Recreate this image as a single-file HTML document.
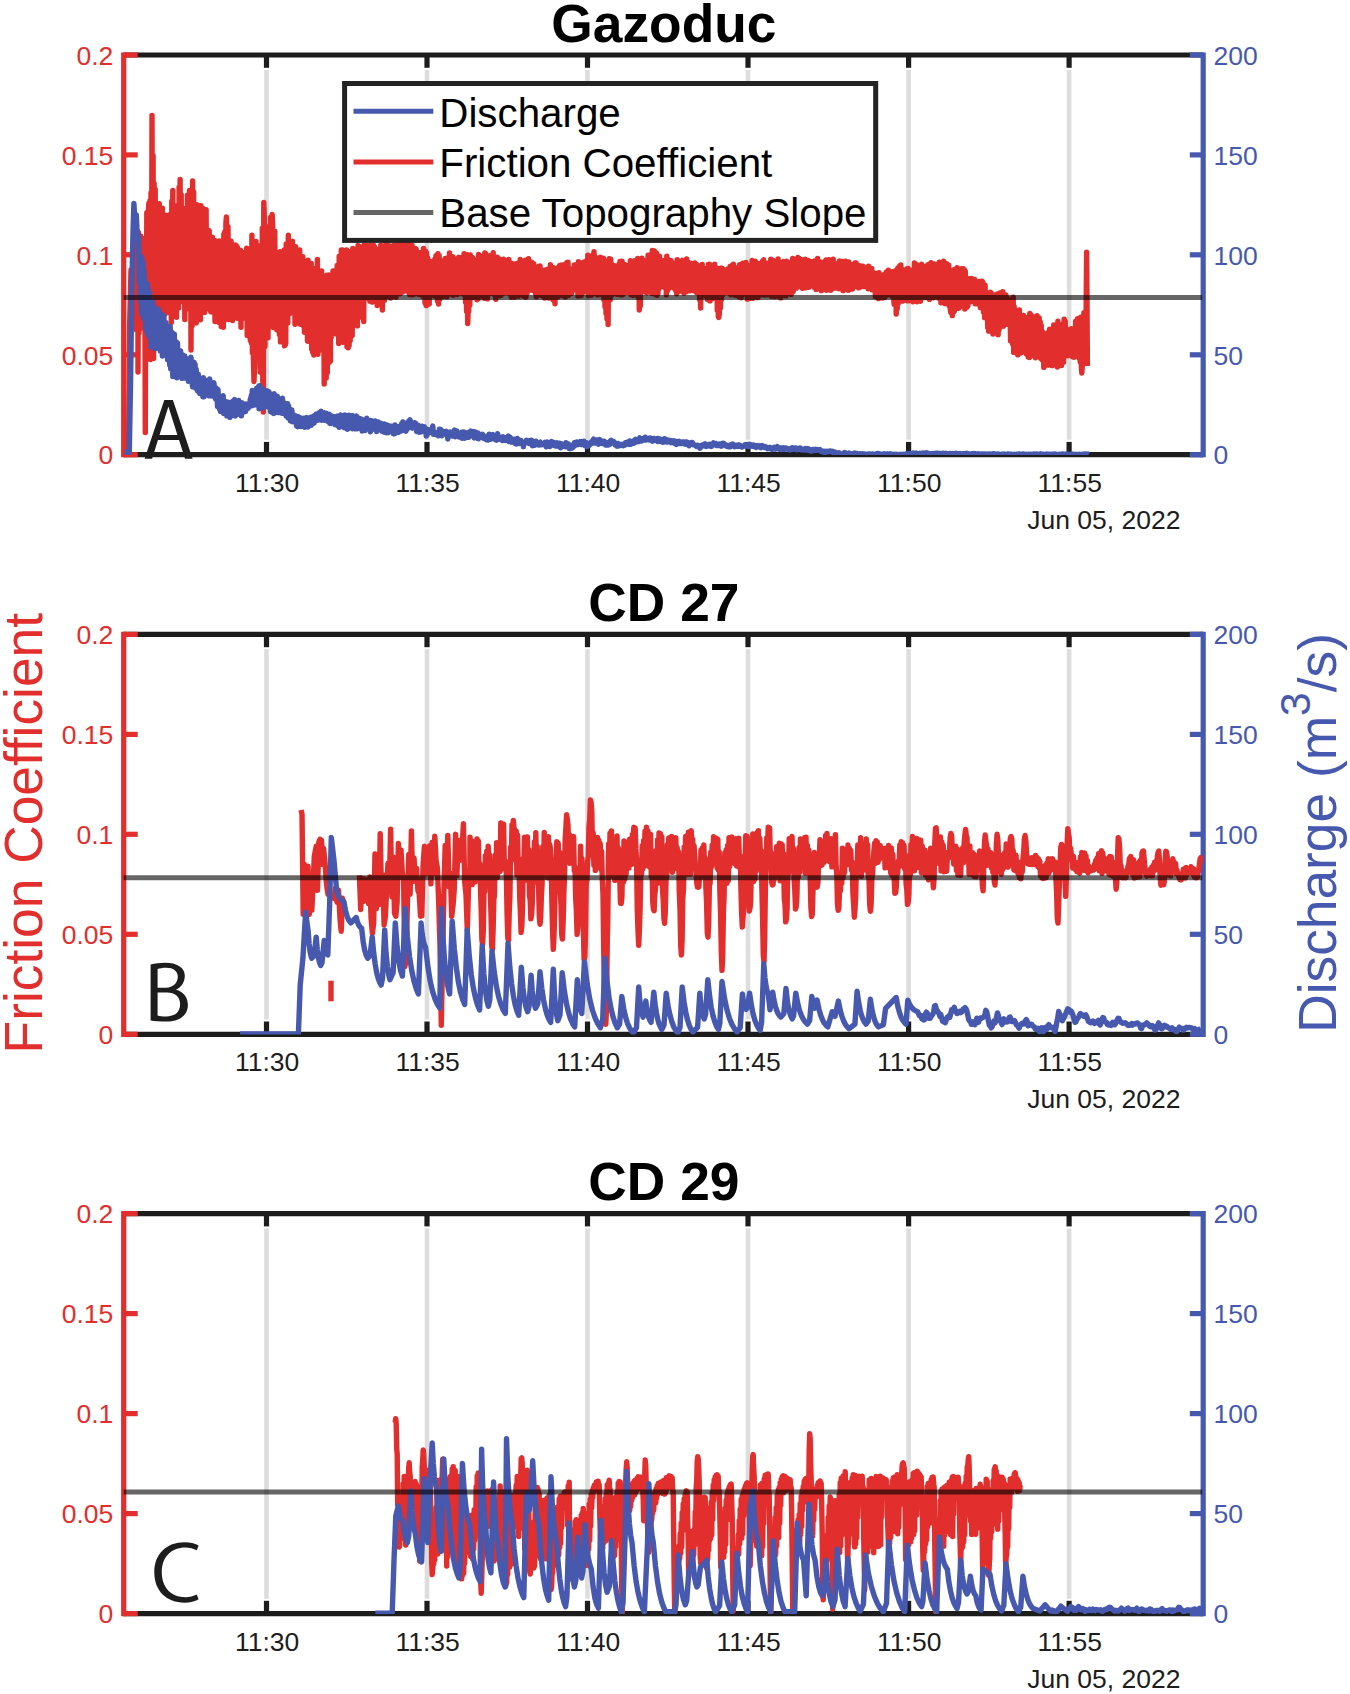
<!DOCTYPE html>
<html><head><meta charset="utf-8"><title>Friction coefficient and discharge</title>
<style>html,body{margin:0;padding:0;background:#fff}svg{display:block}</style>
</head><body>
<svg width="1350" height="1694" viewBox="0 0 1350 1694" font-family="'Liberation Sans', sans-serif">
<rect width="1350" height="1694" fill="#fff"/>
<g id="p0">
<line x1="266.5" y1="69.9" x2="266.5" y2="439.8" stroke="#dddddd" stroke-width="4.6"/>
<line x1="427" y1="69.9" x2="427" y2="439.8" stroke="#dddddd" stroke-width="4.6"/>
<line x1="587.5" y1="69.9" x2="587.5" y2="439.8" stroke="#dddddd" stroke-width="4.6"/>
<line x1="748" y1="69.9" x2="748" y2="439.8" stroke="#dddddd" stroke-width="4.6"/>
<line x1="908.6" y1="69.9" x2="908.6" y2="439.8" stroke="#dddddd" stroke-width="4.6"/>
<line x1="1069.1" y1="69.9" x2="1069.1" y2="439.8" stroke="#dddddd" stroke-width="4.6"/>
<line x1="123.7" y1="55" x2="1203.2" y2="55" stroke="#1d1d1d" stroke-width="5.2"/>
<line x1="123.7" y1="454.7" x2="1203.2" y2="454.7" stroke="#1d1d1d" stroke-width="5.2"/>
<line x1="266.5" y1="55" x2="266.5" y2="67.8" stroke="#1d1d1d" stroke-width="5.2"/>
<line x1="266.5" y1="454.7" x2="266.5" y2="441.9" stroke="#1d1d1d" stroke-width="5.2"/>
<line x1="427" y1="55" x2="427" y2="67.8" stroke="#1d1d1d" stroke-width="5.2"/>
<line x1="427" y1="454.7" x2="427" y2="441.9" stroke="#1d1d1d" stroke-width="5.2"/>
<line x1="587.5" y1="55" x2="587.5" y2="67.8" stroke="#1d1d1d" stroke-width="5.2"/>
<line x1="587.5" y1="454.7" x2="587.5" y2="441.9" stroke="#1d1d1d" stroke-width="5.2"/>
<line x1="748" y1="55" x2="748" y2="67.8" stroke="#1d1d1d" stroke-width="5.2"/>
<line x1="748" y1="454.7" x2="748" y2="441.9" stroke="#1d1d1d" stroke-width="5.2"/>
<line x1="908.6" y1="55" x2="908.6" y2="67.8" stroke="#1d1d1d" stroke-width="5.2"/>
<line x1="908.6" y1="454.7" x2="908.6" y2="441.9" stroke="#1d1d1d" stroke-width="5.2"/>
<line x1="1069.1" y1="55" x2="1069.1" y2="67.8" stroke="#1d1d1d" stroke-width="5.2"/>
<line x1="1069.1" y1="454.7" x2="1069.1" y2="441.9" stroke="#1d1d1d" stroke-width="5.2"/>
<line x1="123.7" y1="52.4" x2="123.7" y2="457.3" stroke="#E22E2C" stroke-width="5.2"/>
<line x1="1203.2" y1="52.4" x2="1203.2" y2="457.3" stroke="#4759AE" stroke-width="5.2"/>
<line x1="123.7" y1="454.7" x2="137.7" y2="454.7" stroke="#E22E2C" stroke-width="5.2"/>
<line x1="1203.2" y1="454.7" x2="1189.8" y2="454.7" stroke="#4759AE" stroke-width="5.2"/>
<line x1="123.7" y1="354.8" x2="137.7" y2="354.8" stroke="#E22E2C" stroke-width="5.2"/>
<line x1="1203.2" y1="354.8" x2="1189.8" y2="354.8" stroke="#4759AE" stroke-width="5.2"/>
<line x1="123.7" y1="254.8" x2="137.7" y2="254.8" stroke="#E22E2C" stroke-width="5.2"/>
<line x1="1203.2" y1="254.8" x2="1189.8" y2="254.8" stroke="#4759AE" stroke-width="5.2"/>
<line x1="123.7" y1="154.9" x2="137.7" y2="154.9" stroke="#E22E2C" stroke-width="5.2"/>
<line x1="1203.2" y1="154.9" x2="1189.8" y2="154.9" stroke="#4759AE" stroke-width="5.2"/>
<line x1="123.7" y1="55" x2="137.7" y2="55" stroke="#E22E2C" stroke-width="5.2"/>
<line x1="1203.2" y1="55" x2="1189.8" y2="55" stroke="#4759AE" stroke-width="5.2"/>
<clipPath id="c0"><rect x="123.7" y="55" width="1079.5" height="400"/></clipPath>
<g clip-path="url(#c0)">
<path d="M128.5,452 129.5,330 131,270 133,300 135,240 136.5,330 138,232 138,372.1 138.5,232.7 139,332.9 139.6,252.3 140.1,328.4 140.6,236 141.1,322.7 141.6,240 142.2,251.7 142.7,252.5 143.2,317.9 143.7,238.8 144.2,328.1 144.8,264.8 145.3,432.5 145.8,246.2 146.3,352.5 146.8,212.8 147.4,349.9 147.9,227.9 148.4,209.6 148.9,202.9 149.4,346.7 150,200.7 150.5,359.6 151,192.7 151.5,343.4 152,115.5 152.6,333.8 153.1,155.8 153.6,358.4 154.1,183.4 154.6,329.6 155.2,189.3 155.7,320.8 156.2,210.1 156.7,324 157.2,213.3 157.8,265.7 158.3,209.5 158.8,314.5 159.3,203.7 159.8,328 160.4,239.9 160.9,327.2 161.4,226.4 161.9,334.6 162.4,208.1 163,331.1 163.5,225.2 164,308.7 164.5,222.1 165,314 165.6,215.2 166.1,289.6 166.6,221.8 167.1,312.5 167.6,236.5 168.2,302.7 168.7,229.7 169.2,295.6 169.7,214.7 170.2,309.9 170.8,217.8 171.3,322.5 171.8,201.1 172.3,302.9 172.8,190.5 173.4,313.5 173.9,211.2 174.4,304.8 174.9,214.8 175.4,297.4 176,217.3 176.5,317.3 177,205.7 177.5,307.4 178,217.1 178.6,307.9 179.1,187.3 179.6,294.4 180.1,179.5 180.6,301.8 181.2,194.7 181.7,284.3 182.2,211.4 182.7,298.3 183.2,223.3 183.8,282.5 184.3,208.8 184.8,319.5 185.3,209.4 185.8,262.3 186.4,210.3 186.9,297.9 187.4,195.3 187.9,286.2 188.4,211.4 189,309.1 189.5,190.5 190,225.9 190.5,201 191,350 191.6,225.2 192.1,325.8 192.6,181 193.1,316.2 193.6,191.7 194.2,310.6 194.7,216.7 195.2,303.7 195.7,212.6 196.2,322.9 196.8,204.8 197.3,314.9 197.8,227.2 198.3,222.7 198.8,267.1 199.4,294.7 199.9,205.8 200.4,319.7 200.9,205.7 201.4,243.3 202,226.6 202.5,294.7 203,208.4 203.5,304.8 204,272.2 204.6,312.4 205.1,230.8 205.6,283.1 206.1,209.8 206.6,302.4 207.2,230.4 207.7,308.7 208.2,237.6 208.7,300.9 209.2,230.6 209.8,303 210.3,247.2 210.8,311.8 211.3,245 211.8,303.7 212.4,237.1 212.9,312.2 213.4,244.9 213.9,304.9 214.4,240.5 215,321.5 215.5,253.9 216,293.2 216.5,241.1 217,320.8 217.6,254.2 218.1,320.8 218.6,265.2 219.1,322.5 219.6,241 220.2,314.3 220.7,246.6 221.2,326.5 221.7,279.8 222.2,319.1 222.8,242.1 223.3,327.2 223.8,234.2 224.3,320.6 224.8,231.8 225.4,302.3 225.9,223.1 226.4,217 226.9,239.6 227.4,312.7 228,226.6 228.5,319.6 229,241.4 229.5,314.8 230,254.5 230.6,310.5 231.1,241.3 231.6,296.5 232.1,245.2 232.6,320.5 233.2,248.2 233.7,308.1 234.2,252.7 234.7,302.1 235.2,245 235.8,298.7 236.3,245.8 236.8,303.2 237.3,247.1 237.8,318.4 238.4,256.8 238.9,313.8 239.4,252.3 239.9,314.2 240.4,250.2 241,327.3 241.5,258.1 242,316.6 242.5,260.6 243,318.1 243.6,262.9 244.1,302.2 244.6,252.5 245.1,317.9 245.6,256.4 246.2,313.1 246.7,248.1 247.2,335.6 247.7,289.9 248.2,322.1 248.8,262.1 249.3,329.8 249.8,252.2 250.3,340.6 250.8,275.3 251.4,343.1 251.9,235.1 252.4,352.8 252.9,261.7 253.4,358.1 254,381.5 254.5,367.2 255,252.8 255.5,356.4 256,241.5 256.6,337.5 257.1,300.5 257.6,337.3 258.1,287.2 258.6,349.3 259.2,245.9 259.7,348.7 260.2,372 260.7,359.2 261.2,255 261.8,373.6 262.3,228.1 262.8,380.9 263.3,412 263.8,202.5 264.4,220.4 264.9,346.6 265.4,234.6 265.9,328 266.4,274.8 267,332.6 267.5,249.5 268,337.7 268.5,226.7 269,326.2 269.6,248.2 270.1,313.9 270.6,217.5 271.1,320.6 271.6,246.4 272.2,214.5 272.7,226.4 273.2,327.6 273.7,236.3 274.2,313.6 274.8,231.1 275.3,326.7 275.8,276.5 276.3,254.3 276.8,329.8 277.4,327.8 277.9,278.4 278.4,329.5 278.9,255.6 279.4,334.6 280,251.6 280.5,341.9 281,261.3 281.5,326.2 282,253.7 282.6,328.9 283.1,264.3 283.6,333.7 284.1,249.9 284.6,345.9 285.2,338.4 285.7,344 286.2,243.9 286.7,322.7 287.2,244.8 287.8,323 288.3,235.3 288.8,308.4 289.3,242.5 289.8,313.5 290.4,244.4 290.9,274.1 291.4,260 291.9,307.3 292.4,241.1 293,304 293.5,252.9 294,275.6 294.5,279 295,324.2 295.6,246.7 296.1,314.8 296.6,260 297.1,321.5 297.6,262.2 298.2,309.1 298.7,269 299.2,296.6 299.7,250 300.2,324.2 300.8,271.8 301.3,322.7 301.8,271.3 302.3,317.1 302.8,256.6 303.4,325.7 303.9,264.8 304.4,332.2 304.9,277.1 305.4,330.7 306,275.4 306.5,324.7 307,275.1 307.5,341.1 308,260.3 308.6,341.4 309.1,296.8 309.6,325.6 310.1,282.7 310.6,338.3 311.2,263.4 311.7,349.1 312.2,284.8 312.7,352.3 313.2,277.9 313.8,355.1 314.3,268.8 314.8,309.9 315.3,269.9 315.8,332.8 316.4,292.6 316.9,339.6 317.4,259.4 317.9,354.3 318.4,310.2 319,350.6 319.5,278 320,334.5 320.5,281.1 321,347.5 321.6,270.9 322.1,348.2 322.6,296.2 323.1,340.7 323.6,289.2 324.2,384 324.7,277.1 325.2,364.1 325.7,288.6 326.2,378 326.8,275.3 327.3,372.8 327.8,292.2 328.3,357.8 328.8,274.9 329.4,362.3 329.9,277.8 330.4,360.9 330.9,285.7 331.4,336.9 332,284.2 332.5,309 333,271 333.5,324.5 334,287.8 334.6,333.8 335.1,270.7 335.6,331.2 336.1,272 336.6,325.5 337.2,265.5 337.7,334.6 338.2,317.2 338.7,343.5 339.2,256.2 339.8,303.5 340.3,267.1 340.8,341.2 341.3,249.9 341.8,308.3 342.4,249.9 342.9,342.2 343.4,271.8 343.9,329.2 344.4,255.4 345,329.8 345.5,262.2 346,329.3 346.5,249.9 347,346.8 347.6,255.6 348.1,347.8 348.6,251.5 349.1,345.5 349.6,253.7 350.2,340.4 350.7,273 351.2,333 351.7,259.5 352.2,335.4 352.8,248.5 353.3,323.2 353.8,253.4 354.3,265.2 354.8,266.3 355.4,324.9 355.9,264.2 356.4,313.8 356.9,264.4 357.4,325.9 358,245.4 358.5,305.7 359,263.7 359.5,317.2 360,255.4 360.6,311.9 361.1,246.9 361.6,308.3 362.1,248.3 362.6,269.3 363.2,259.8 363.7,321.5 364.2,245 364.7,284.1 365.2,251.9 365.8,294.8 366.3,245.4 366.8,280.4 367.3,256.9 367.8,298.1 368.4,246.4 368.9,298.8 369.4,258.4 369.9,301.1 370.4,244.9 371,289.1 371.5,245.1 372,302.1 372.5,257.1 373,301.6 373.6,245.1 374.1,295.4 374.6,247 375.1,291.4 375.6,253.4 376.2,292.4 376.7,258.9 377.2,305.5 377.7,249.8 378.2,295.6 378.8,253.6 379.3,296.7 379.8,258.3 380.3,298.6 380.8,245.1 381.4,301.6 381.9,248 382.4,310 382.9,254.7 383.4,250.2 384,246.4 384.5,300.1 385,253.1 385.5,287.1 386,242.5 386.6,296.4 387.1,243.6 387.6,293.7 388.1,255.5 388.6,295.2 389.2,294.6 389.7,284.2 390.2,246.3 390.7,298 391.2,246.3 391.8,293.4 392.3,288.6 392.8,254.5 393.3,250.9 393.8,291 394.4,244.6 394.9,292.4 395.4,249 395.9,297.3 396.4,245.4 397,277.8 397.5,247.7 398,284.6 398.5,274.3 399,286.5 399.6,240.2 400.1,293.7 400.6,246.3 401.1,280.4 401.6,244.6 402.2,292.3 402.7,244 403.2,281.7 403.7,241.3 404.2,284.7 404.8,244.2 405.3,290.8 405.8,240.4 406.3,284.5 406.8,245.3 407.4,289.2 407.9,241.3 408.4,291.7 408.9,255.5 409.4,294.4 410,255.2 410.5,289.4 411,247.4 411.5,294.8 412,245.1 412.6,283.8 413.1,284.9 413.6,294.5 414.1,248.2 414.6,287.7 415.2,248.5 415.7,285.8 416.2,249.1 416.7,290.3 417.2,251.9 417.8,293.7 418.3,253.6 418.8,294.4 419.3,254.1 419.8,267.9 420.4,252.8 420.9,292 421.4,253.1 421.9,293.2 422.4,253.6 423,296.4 423.5,248.4 424,286.8 424.5,255 425,302.8 425.6,251.2 426.1,305.6 426.6,253 427.1,302.6 427.6,257.8 428.2,290.6 428.7,260.5 429.2,304 429.7,263.8 430.2,285 430.8,264.3 431.3,294 431.8,263 432.3,293.6 432.8,261.5 433.4,293.2 433.9,265.6 434.4,296 434.9,258.9 435.4,277 436,255.7 436.5,265.3 437,255.8 437.5,301.1 438,253.8 438.6,304 439.1,255.6 439.6,299.4 440.1,259.9 440.6,287.7 441.2,262.4 441.7,289.1 442.2,261.2 442.7,296.7 443.2,262.3 443.8,292.3 444.3,268.1 444.8,294.2 445.3,258.5 445.8,295.2 446.4,258.2 446.9,296.7 447.4,259.8 447.9,291.2 448.4,286.4 449,292.8 449.5,252.9 450,293.7 450.5,293 451,290.9 451.6,261.9 452.1,293 452.6,256.7 453.1,295.3 453.6,260.5 454.2,288.4 454.7,258.8 455.2,291.3 455.7,262.8 456.2,293.4 456.8,265.3 457.3,294.5 457.8,262.2 458.3,274.5 458.8,257.2 459.4,281.7 459.9,258.7 460.4,292.1 460.9,257.9 461.4,289.9 462,270.9 462.5,293.7 463,258.3 463.5,279.9 464,253.8 464.6,291.2 465.1,261.6 465.6,302.1 466.1,282.5 466.6,311.4 467.2,254.6 467.7,323.5 468.2,309.9 468.7,311.7 469.2,262.3 469.8,305.2 470.3,255 470.8,296.7 471.3,263.8 471.8,283 472.4,257.4 472.9,297.2 473.4,267.8 473.9,295 474.4,262 475,293 475.5,264.5 476,297.4 476.5,259.7 477,299.8 477.6,270.9 478.1,298.7 478.6,254.4 479.1,272.3 479.6,256.7 480.2,285.1 480.7,256.3 481.2,290 481.7,265.4 482.2,296.4 482.8,267.2 483.3,290.9 483.8,257.6 484.3,298.3 484.8,253 485.4,295.3 485.9,254 486.4,294.2 486.9,255.7 487.4,298.9 488,260 488.5,292.6 489,262.9 489.5,288.6 490,280.9 490.6,255.5 491.1,256 491.6,293.4 492.1,258.6 492.6,291.6 493.2,252.7 493.7,293.8 494.2,257.2 494.7,294.9 495.2,258.8 495.8,299.3 496.3,262.4 496.8,284.1 497.3,257.1 497.8,289.9 498.4,261.8 498.9,295.7 499.4,258.9 499.9,295.8 500.4,270.1 501,295.2 501.5,261.6 502,293 502.5,265.4 503,282.6 503.6,259.1 504.1,293.1 504.6,261.6 505.1,286.8 505.6,260.5 506.2,291.9 506.7,286.7 507.2,293 507.7,262.4 508.2,292.5 508.8,259.5 509.3,285.8 509.8,263.8 510.3,294.4 510.8,266.8 511.4,297.3 511.9,263.5 512.4,287.7 512.9,264 513.4,290.6 514,291.4 514.5,297.3 515,263.9 515.5,292.9 516,266.6 516.6,293.3 517.1,263.5 517.6,292.6 518.1,272 518.6,296.1 519.2,263.1 519.7,290.7 520.2,259.4 520.7,290 521.2,266.8 521.8,290.3 522.3,265.5 522.8,294 523.3,261.7 523.8,296.3 524.4,291.1 524.9,294.4 525.4,260.2 525.9,297.3 526.4,290.5 527,293.8 527.5,261 528,276.8 528.5,258.8 529,288.4 529.6,262.2 530.1,286.3 530.6,266.5 531.1,290.1 531.6,262.2 532.2,290.3 532.7,264 533.2,288.8 533.7,263.8 534.2,288.6 534.8,272.2 535.3,293 535.8,268 536.3,296.9 536.8,268.6 537.4,289.5 537.9,267.3 538.4,290.6 538.9,266.1 539.4,294.9 540,265.9 540.5,291.6 541,273.9 541.5,295.5 542,273.5 542.6,270.5 543.1,272.4 543.6,290.2 544.1,271.3 544.6,298 545.2,270 545.7,295.1 546.2,270.9 546.7,296.4 547.2,295.3 547.8,294.8 548.3,269 548.8,298 549.3,269.1 549.8,285.8 550.4,264.6 550.9,275.7 551.4,269.6 551.9,297.6 552.4,267.5 553,299.6 553.5,279 554,300.4 554.5,268.3 555,303.8 555.6,272.7 556.1,297.3 556.6,269.8 557.1,288.7 557.6,270.4 558.2,296.8 558.7,266.9 559.2,291.7 559.7,265.5 560.2,285.9 560.8,267.2 561.3,293.6 561.8,264.9 562.3,293 562.8,277.8 563.4,296 563.9,289.6 564.4,283.3 564.9,264.4 565.4,297 566,265.8 566.5,289.6 567,262.5 567.5,286.6 568,262.3 568.6,295.2 569.1,269 569.6,289.7 570.1,270.9 570.6,290.4 571.2,269.1 571.7,293.5 572.2,276.3 572.7,290.5 573.2,270.7 573.8,289.7 574.3,264.9 574.8,286.5 575.3,267.8 575.8,289.4 576.4,264.8 576.9,285.5 577.4,268.9 577.9,296 578.4,261.8 579,295.3 579.5,267 580,288 580.5,268.6 581,295.6 581.6,266.9 582.1,293.8 582.6,263 583.1,284.4 583.6,262.2 584.2,271.3 584.7,267.4 585.2,291.2 585.7,261.5 586.2,287.8 586.8,260.5 587.3,284.3 587.8,255.3 588.3,295.5 588.8,260.3 589.4,294.7 589.9,257.3 590.4,289.3 590.9,258.4 591.4,295.2 592,258.4 592.5,290.1 593,254.7 593.5,286.4 594,251.7 594.6,284.9 595.1,256.8 595.6,293.8 596.1,276.4 596.6,277.5 597.2,261 597.7,294.9 598.2,264.7 598.7,292.8 599.2,262.1 599.8,293.2 600.3,257.2 600.8,294.4 601.3,264.3 601.8,294.1 602.4,266.2 602.9,290.7 603.4,258.1 603.9,299.6 604.4,270.4 605,306.7 605.5,266.4 606,313.4 606.5,265 607,318.9 607.6,288.6 608.1,324.5 608.6,260.5 609.1,258.7 609.6,268.4 610.2,300 610.7,259.1 611.2,273.8 611.7,264.2 612.2,294.7 612.8,268.5 613.3,289.8 613.8,265.5 614.3,267 614.8,265.7 615.4,287.4 615.9,268.4 616.4,267.1 616.9,277.9 617.4,294.3 618,271.9 618.5,287 619,264.2 619.5,289.7 620,261.4 620.6,294.9 621.1,265.9 621.6,273.9 622.1,261.2 622.6,294.7 623.2,265 623.7,287.3 624.2,266.5 624.7,293 625.2,264.7 625.8,289.8 626.3,269 626.8,289 627.3,268.6 627.8,292.4 628.4,266.8 628.9,291.9 629.4,266.2 629.9,286.4 630.4,260.8 631,294.6 631.5,266.4 632,276.4 632.5,267.1 633,295.2 633.6,265.5 634.1,272.3 634.6,260.7 635.1,291.9 635.6,260.6 636.2,287.1 636.7,262.5 637.2,295.2 637.7,258.5 638.2,297.5 638.8,263.2 639.3,310 639.8,272.5 640.3,305.9 640.8,261.4 641.4,287.2 641.9,258.2 642.4,291.4 642.9,262.3 643.4,290.2 644,263.4 644.5,291.3 645,260.6 645.5,289.5 646,285.3 646.6,293 647.1,265.5 647.6,291.9 648.1,255.1 648.6,291.7 649.2,255.3 649.7,288.5 650.2,270.1 650.7,281.4 651.2,255.3 651.8,293.4 652.3,250.5 652.8,286 653.3,261.7 653.8,293.7 654.4,250.9 654.9,290.7 655.4,254 655.9,294.4 656.4,253 657,295.3 657.5,255.2 658,293.5 658.5,257.3 659,288.6 659.6,256.2 660.1,286.9 660.6,261.9 661.1,283.6 661.6,263.9 662.2,284.1 662.7,260.9 663.2,265.3 663.7,260.8 664.2,287.3 664.8,279.4 665.3,275.3 665.8,260.2 666.3,294.9 666.8,256.1 667.4,291 667.9,283.7 668.4,289.3 668.9,261.5 669.4,275.5 670,260.2 670.5,287 671,260.7 671.5,285.9 672,262.4 672.6,284.9 673.1,275.5 673.6,288 674.1,264.4 674.6,266.9 675.2,265.8 675.7,290.4 676.2,262.8 676.7,293.8 677.2,259.6 677.8,284.3 678.3,265.8 678.8,291.5 679.3,261.4 679.8,285.8 680.4,262.7 680.9,264.6 681.4,265 681.9,261.6 682.4,260.2 683,291.8 683.5,261.9 684,293.1 684.5,266 685,288.8 685.6,265.6 686.1,291.8 686.6,259 687.1,288.8 687.6,261.6 688.2,289.2 688.7,264.3 689.2,290.9 689.7,265.4 690.2,288.4 690.8,263.1 691.3,288.3 691.8,263.4 692.3,290.6 692.8,266.8 693.4,279.7 693.9,270.5 694.4,286.2 694.9,263 695.4,289.3 696,264.4 696.5,292.5 697,264.6 697.5,292.2 698,268.2 698.6,276.5 699.1,273.8 699.6,299.7 700.1,274.1 700.6,308 701.2,269.6 701.7,295 702.2,264.4 702.7,294.2 703.2,269.6 703.8,288.4 704.3,268.4 704.8,290.5 705.3,272.9 705.8,296 706.4,269.9 706.9,296 707.4,299.6 707.9,296.8 708.4,264.4 709,297.9 709.5,264.2 710,300.9 710.5,265.2 711,294.8 711.6,272.7 712.1,298.8 712.6,276.1 713.1,295.2 713.6,280.9 714.2,294.7 714.7,264.1 715.2,291.4 715.7,283.5 716.2,297.2 716.8,268.6 717.3,310.1 717.8,268.5 718.3,316.6 718.8,317.5 719.4,313.1 719.9,275.7 720.4,307.9 720.9,268.2 721.4,299.8 722,268.2 722.5,295.1 723,270.5 723.5,293.4 724,273.2 724.6,286 725.1,269.9 725.6,292.9 726.1,278.7 726.6,292.1 727.2,274.5 727.7,292.7 728.2,268.6 728.7,286.7 729.2,270.5 729.8,291.4 730.3,266.2 730.8,294.8 731.3,267.9 731.8,293.4 732.4,265.1 732.9,291.8 733.4,264.1 733.9,292.2 734.4,269.6 735,295.3 735.5,273.2 736,294.8 736.5,271.8 737,295.5 737.6,269.2 738.1,295.2 738.6,266.9 739.1,296.6 739.6,264.6 740.2,291.9 740.7,269 741.2,297.7 741.7,266.9 742.2,292.8 742.8,263.3 743.3,292.9 743.8,266.1 744.3,270 744.8,269.5 745.4,294.3 745.9,262.4 746.4,293.9 746.9,264.6 747.4,299.1 748,274.4 748.5,297.7 749,270.9 749.5,280 750,271.9 750.6,298.4 751.1,270.5 751.6,290.9 752.1,260.4 752.6,298.4 753.2,273.4 753.7,285.4 754.2,266 754.7,286.6 755.2,261.2 755.8,295.8 756.3,269.2 756.8,295.3 757.3,263.5 757.8,297.6 758.4,263.4 758.9,290.7 759.4,267.1 759.9,294.5 760.4,265.8 761,294.9 761.5,267.1 762,288.3 762.5,261.3 763,271.2 763.6,259.6 764.1,292.7 764.6,264 765.1,295.1 765.6,290.5 766.2,291.2 766.7,263.4 767.2,294.9 767.7,266.7 768.2,290 768.8,264.2 769.3,293.5 769.8,262.2 770.3,292.8 770.8,259.1 771.4,296.3 771.9,263 772.4,295.8 772.9,260.3 773.4,288.7 774,267.2 774.5,296.5 775,266.1 775.5,291.7 776,264.2 776.6,294.5 777.1,266.5 777.6,295.5 778.1,259 778.6,296.5 779.2,272.5 779.7,294.4 780.2,269.9 780.7,297.9 781.2,262.7 781.8,290.1 782.3,264.2 782.8,271.6 783.3,261.5 783.8,292.2 784.4,262.1 784.9,290.4 785.4,262.1 785.9,295.9 786.4,261.2 787,291.5 787.5,263.3 788,291.1 788.5,262.2 789,289.7 789.6,269 790.1,290.5 790.6,271.7 791.1,294.4 791.6,268.3 792.2,292.5 792.7,258.5 793.2,291.4 793.7,259.1 794.2,285.6 794.8,262.6 795.3,287.3 795.8,267.4 796.3,288.1 796.8,262.2 797.4,282.5 797.9,257.5 798.4,269.6 798.9,258.2 799.4,286.6 800,261.7 800.5,284.8 801,259.4 801.5,283.3 802,272.1 802.6,288.4 803.1,264 803.6,277.2 804.1,262.8 804.6,274.6 805.2,259.2 805.7,287.7 806.2,262 806.7,284.6 807.2,260.2 807.8,286.1 808.3,260.4 808.8,287.2 809.3,261.7 809.8,268.5 810.4,262 810.9,283.4 811.4,261.8 811.9,279.8 812.4,266.3 813,281.4 813.5,264.8 814,287.1 814.5,261 815,270.6 815.6,262.4 816.1,289.5 816.6,264.1 817.1,284.7 817.6,258.5 818.2,284.9 818.7,265.6 819.2,286.7 819.7,261.7 820.2,263.2 820.8,262 821.3,290.6 821.8,265 822.3,286.8 822.8,278.7 823.4,288.7 823.9,263.8 824.4,287.7 824.9,261.4 825.4,288.7 826,260 826.5,290.3 827,263.5 827.5,287 828,264.7 828.6,286 829.1,259.8 829.6,277.6 830.1,260.5 830.6,290.3 831.2,268.2 831.7,289.2 832.2,266.6 832.7,279.2 833.2,259.1 833.8,284.1 834.3,262.6 834.8,284.2 835.3,265.5 835.8,288.1 836.4,264.5 836.9,286.5 837.4,268.9 837.9,278.2 838.4,266.5 839,288.7 839.5,261 840,286.7 840.5,262.6 841,286.8 841.6,264.4 842.1,284.4 842.6,261.5 843.1,290.6 843.6,264.5 844.2,284.6 844.7,264.8 845.2,288 845.7,261.3 846.2,282.8 846.8,264.4 847.3,278.3 847.8,262.3 848.3,290.2 848.8,261.9 849.4,283.9 849.9,266.4 850.4,289.2 850.9,265.9 851.4,284.1 852,264.8 852.5,289 853,271.1 853.5,283.4 854,266.9 854.6,285.5 855.1,263 855.6,280.4 856.1,263 856.6,286.6 857.2,269.2 857.7,285.6 858.2,265.3 858.7,287.9 859.2,286.8 859.8,287.5 860.3,265.9 860.8,266.1 861.3,268 861.8,285.1 862.4,266.2 862.9,275.8 863.4,266.4 863.9,286.6 864.4,267.7 865,283.2 865.5,269.6 866,269.3 866.5,268 867,284.5 867.6,270.3 868.1,288.8 868.6,266.3 869.1,287.2 869.6,269.3 870.2,288.1 870.7,268.3 871.2,287.6 871.7,268.5 872.2,289.9 872.8,273 873.3,286.2 873.8,273.1 874.3,290.4 874.8,273.2 875.4,296.8 875.9,275.5 876.4,296.9 876.9,275 877.4,294.5 878,273 878.5,298.6 879,272.8 879.5,293.4 880,280.5 880.6,294.1 881.1,279.8 881.6,294.7 882.1,275.6 882.6,298 883.2,275 883.7,292.8 884.2,274.5 884.7,297.4 885.2,273.9 885.8,292.5 886.3,272 886.8,295.1 887.3,272.4 887.8,293.9 888.4,270.3 888.9,294.1 889.4,273.9 889.9,292.3 890.4,272.4 891,289.5 891.5,273.3 892,296.2 892.5,271.8 893,286 893.6,296 894.1,304.3 894.6,271.9 895.1,304.7 895.6,270.6 896.2,314 896.7,272 897.2,308.6 897.7,268.3 898.2,303.5 898.8,275.9 899.3,266.4 899.8,265.8 900.3,293.7 900.8,265 901.4,291 901.9,272.3 902.4,301.1 902.9,269.6 903.4,290.4 904,274.2 904.5,299.6 905,271.7 905.5,282.5 906,289.8 906.6,300.5 907.1,268.7 907.6,300.9 908.1,268.4 908.6,300.8 909.2,270.3 909.7,297 910.2,270.1 910.7,274 911.2,273.6 911.8,298.8 912.3,272 912.8,301.7 913.3,280.8 913.8,290.2 914.4,262.9 914.9,278.7 915.4,264.6 915.9,293.4 916.4,264.5 917,301.8 917.5,271.4 918,295.2 918.5,269.8 919,298 919.6,269 920.1,299.6 920.6,301.2 921.1,268.8 921.6,264.1 922.2,296.7 922.7,266.8 923.2,291.8 923.7,267.1 924.2,296.3 924.8,283.4 925.3,297.5 925.8,266.1 926.3,295.9 926.8,268.5 927.4,295.4 927.9,264.7 928.4,296.4 928.9,273.3 929.4,299.4 930,273.1 930.5,296.6 931,262.6 931.5,293.4 932,268.5 932.6,277 933.1,294.6 933.6,297.8 934.1,263.9 934.6,296.9 935.2,264.1 935.7,292.4 936.2,272.4 936.7,271.1 937.2,269.9 937.8,294.9 938.3,272.3 938.8,298.2 939.3,262.2 939.8,284.1 940.4,263.4 940.9,302.8 941.4,263.7 941.9,298 942.4,264.4 943,296.9 943.5,261.1 944,301.3 944.5,265.1 945,303.6 945.6,264.3 946.1,302 946.6,263.8 947.1,301.3 947.6,266.2 948.2,296.6 948.7,265.1 949.2,305.7 949.7,270.8 950.2,308.5 950.8,312.5 951.3,309.5 951.8,275.4 952.3,315.6 952.8,279.8 953.4,312.1 953.9,269.8 954.4,310.9 954.9,272.6 955.4,301.7 956,270 956.5,305.7 957,267.8 957.5,308.3 958,275 958.6,308.3 959.1,288.4 959.6,307.1 960.1,278 960.6,272.5 961.2,268.8 961.7,305.6 962.2,270.2 962.7,298 963.2,268.8 963.8,301.5 964.3,269.7 964.8,309 965.3,271.5 965.8,288 966.4,292 966.9,307.2 967.4,288 967.9,305.9 968.4,285.4 969,298.3 969.5,278.6 970,301.5 970.5,279.2 971,301.5 971.6,278.4 972.1,300.6 972.6,281 973.1,300.7 973.6,280.9 974.2,299.9 974.7,279.5 975.2,303.7 975.7,282.8 976.2,301.6 976.8,285.2 977.3,303.9 977.8,284.8 978.3,282.1 978.8,284.3 979.4,281.5 979.9,284.7 980.4,307.6 980.9,284.7 981.4,304.6 982,281.3 982.5,307.7 983,282.5 983.5,311.9 984,285.5 984.6,317.6 985.1,285.3 985.6,316.7 986.1,293.8 986.6,316.1 987.2,298.3 987.7,327.5 988.2,295.2 988.7,331.1 989.2,305.6 989.8,324.2 990.3,292.2 990.8,329.1 991.3,293.2 991.8,330.2 992.4,302.8 992.9,334 993.4,299.3 993.9,332.4 994.4,297.8 995,330.9 995.5,321.1 996,331.4 996.5,294.2 997,332.9 997.6,294.9 998.1,334.8 998.6,299.7 999.1,329.7 999.6,293 1000.2,310 1000.7,292.6 1001.2,321.5 1001.7,300.1 1002.2,315.4 1002.8,291.7 1003.3,326.2 1003.8,300.1 1004.3,323.4 1004.8,304.7 1005.4,316.7 1005.9,294.9 1006.4,322.8 1006.9,297.5 1007.4,324.4 1008,299.5 1008.5,319.5 1009,306.9 1009.5,324.9 1010,313.6 1010.6,341 1011.1,335.6 1011.6,307.6 1012.1,298.8 1012.6,343.9 1013.2,297.2 1013.7,352.5 1014.2,306.8 1014.7,320.9 1015.2,315.3 1015.8,347.5 1016.3,326.9 1016.8,351.1 1017.3,316.9 1017.8,354.9 1018.4,317.9 1018.9,346.1 1019.4,309.9 1019.9,322.2 1020.4,347.5 1021,353 1021.5,319.3 1022,351.7 1022.5,316.2 1023,347.5 1023.6,315.4 1024.1,345.7 1024.6,326 1025.1,348.8 1025.6,317.5 1026.2,353.6 1026.7,318 1027.2,354.4 1027.7,320.5 1028.2,356.9 1028.8,319.7 1029.3,357.5 1029.8,313.4 1030.3,338.8 1030.8,314.6 1031.4,353.5 1031.9,320.5 1032.4,352.6 1032.9,324.2 1033.4,355.7 1034,320.5 1034.5,353.7 1035,316.6 1035.5,357.8 1036,317.6 1036.6,354.1 1037.1,315.6 1037.6,355.2 1038.1,337.9 1038.6,348.8 1039.2,318 1039.7,352.8 1040.2,322 1040.7,358.3 1041.2,325.4 1041.8,359.4 1042.3,331.5 1042.8,358 1043.3,350.6 1043.8,367.4 1044.4,335.4 1044.9,354.7 1045.4,334.4 1045.9,365.2 1046.4,336.6 1047,361.9 1047.5,332.9 1048,365.1 1048.5,335.1 1049,364.4 1049.6,329.1 1050.1,358.4 1050.6,329.5 1051.1,361.9 1051.6,340 1052.2,365.6 1052.7,329.5 1053.2,359.4 1053.7,325 1054.2,361.7 1054.8,332.9 1055.3,335 1055.8,333.2 1056.3,354.2 1056.8,330.6 1057.4,367 1057.9,321.2 1058.4,361.9 1058.9,326 1059.4,356.3 1060,330.7 1060.5,355.8 1061,328.9 1061.5,365.5 1062,330.2 1062.6,358.6 1063.1,323.8 1063.6,362.2 1064.1,319.1 1064.6,348.7 1065.2,321.1 1065.7,354.6 1066.2,328.8 1066.7,351 1067.2,334.2 1067.8,355.7 1068.3,331.9 1068.8,353.5 1069.3,334.1 1069.8,354.8 1070.4,329.7 1070.9,352.8 1071.4,328.8 1071.9,353.8 1072.4,356.7 1073,355.3 1073.5,332.2 1074,357.2 1074.5,330 1075,347.8 1075.6,321.1 1076.1,354.9 1076.6,345.3 1077.1,341.9 1077.6,318.7 1078.2,345 1078.7,330.6 1079.2,358.1 1079.7,322.6 1080.2,361.6 1080.8,317.2 1081.3,365.5 1081.8,373 1082.3,365.2 1082.8,318.3 1083.4,355.3 1083.9,312.7 1084.4,348.2 1084.9,340.4 1085.4,350.5 1086,312.3 1086,330 1086.6,252.2 1087,300 1087.4,366" fill="none" stroke="#E22E2C" stroke-width="5.4" stroke-linejoin="round" stroke-linecap="butt"/>
<path d="M124.5,452.3 129.3,452.3 130.6,380 131.8,290 133,232 133.9,203.5 135,222 136.3,215 137.5,240 138.6,236 139.5,283.2 140,255.5 140.5,301.9 141.1,256.8 141.6,313.4 142.1,258.4 142.6,314.4 143.1,262.6 143.7,318.4 144.2,271.3 144.7,283.1 145.2,281.4 145.7,328.1 146.3,297.7 146.8,331.6 147.3,284.3 147.8,333.9 148.3,289.3 148.9,336 149.4,292.9 149.9,335.1 150.4,310.9 150.9,346.9 151.5,301.9 152,307.4 152.5,301.1 153,343.4 153.5,306.3 154.1,344.9 154.6,309.9 155.1,348.6 155.6,338.8 156.1,348.5 156.7,308.6 157.2,344.9 157.7,312.4 158.2,344.4 158.7,309.7 159.3,345.9 159.8,314.8 160.3,351 160.8,322.2 161.3,343.1 161.9,314.4 162.4,356 162.9,322.5 163.4,351.5 163.9,316.1 164.5,348.9 165,327.4 165.5,353.4 166,322.6 166.5,355.2 167.1,328.5 167.6,359.8 168.1,329 168.6,337.8 169.1,342.8 169.7,365 170.2,326.5 170.7,368.7 171.2,331.7 171.7,364.3 172.3,332.7 172.8,376.5 173.3,334.1 173.8,375.7 174.3,334.1 174.9,369.6 175.4,344.6 175.9,375.8 176.4,342 176.9,377.7 177.5,343.2 178,370 178.5,350.3 179,371.3 179.5,351.1 180.1,375.3 180.6,350.9 181.1,369.5 181.6,359.8 182.1,378.4 182.7,355 183.2,375.3 183.7,374.1 184.2,378 184.7,356 185.3,378.1 185.8,359.4 186.3,378.3 186.8,359.6 187.3,373.7 187.9,364 188.4,381.2 188.9,358.8 189.4,373.3 189.9,362.2 190.5,370.7 191,357.2 191.5,378 192,380.1 192.5,386.7 193.1,361.9 193.6,384.5 194.1,362.5 194.6,384.5 195.1,364.4 195.7,388.1 196.2,369.1 196.7,385.4 197.2,376.8 197.7,390.9 198.3,374.3 198.8,388.5 199.3,378.7 199.8,393.5 200.3,386.1 200.9,389.6 201.4,387.9 201.9,392.6 202.4,378.1 202.9,396.7 203.5,377.8 204,396.7 204.5,380.3 205,391.2 205.5,383.2 206.1,394.8 206.6,382.4 207.1,392 207.6,381.2 208.1,394.5 208.7,380 209.2,395.8 209.7,378.9 210.2,395.7 210.7,386.2 211.3,393.7 211.8,383.7 212.3,395.9 212.8,387.8 213.3,396.3 213.9,382.8 214.4,387.6 214.9,392.3 215.4,398.7 215.9,387.7 216.5,400 217,388.9 217.5,406.3 218,389.4 218.5,406.6 219.1,401.6 219.6,409.3 220.1,398.5 220.6,411.3 221.1,397.3 221.7,408.4 222.2,401.2 222.7,409.2 223.2,395.8 223.7,413.5 224.3,402.5 224.8,413.4 225.3,402.6 225.8,408.8 226.3,401.7 226.9,415.8 227.4,407.2 227.9,412.9 228.4,402.1 228.9,412.5 229.5,402.9 230,417.3 230.5,405.4 231,406.6 231.5,411.4 232.1,415.4 232.6,401.5 233.1,414.9 233.6,400.8 234.1,403 234.7,399.6 235.2,416 235.7,403.3 236.2,412.9 236.7,401.7 237.3,414.6 237.8,405.4 238.3,407.7 238.8,400.5 239.3,411.9 239.9,407.6 240.4,412 240.9,404.6 241.4,415.8 241.9,402.7 242.5,412.9 243,405.4 243.5,411.6 244,404 244.5,409.9 245.1,405 245.6,411.6 246.1,403.9 246.6,408.3 247.1,405.5 247.7,408.5 248.2,405.1 248.7,407.7 249.2,403.8 249.7,406 250.3,398.9 250.8,401.3 251.3,395.4 251.8,405.8 252.3,390.4 252.9,405.1 253.4,394.3 253.9,405.1 254.4,400.4 254.9,402 255.5,396.4 256,402.3 256.5,388.5 257,404.8 257.5,388.1 258.1,387 258.6,386.4 259.1,408.8 259.6,385.6 260.1,407.4 260.7,388.2 261.2,405.4 261.7,389.1 262.2,407.4 262.7,388.9 263.3,407.9 263.8,395.7 264.3,404 264.8,395.5 265.3,404.3 265.9,392 266.4,395.9 266.9,390.7 267.4,406.6 267.9,394.2 268.5,405.8 269,391.8 269.5,407.6 270,393.7 270.5,411.3 271.1,395 271.6,410.4 272.1,396.5 272.6,412.6 273.1,399.1 273.7,413.5 274.2,393.8 274.7,408.4 275.2,398.6 275.7,412.5 276.3,398.5 276.8,409.6 277.3,396.1 277.8,411.6 278.3,399.8 278.9,412.6 279.4,399 279.9,412.5 280.4,406.9 280.9,405.7 281.5,401.6 282,413.2 282.5,398.2 283,413.2 283.5,402.9 284.1,413.2 284.6,403 285.1,410.2 285.6,404 286.1,415.9 286.7,405.4 287.2,414.8 287.7,403.8 288.2,417.8 288.7,405.9 289.3,418.2 289.8,410 290.3,420.7 290.8,410.2 291.3,418.3 291.9,410 292.4,421.7 292.9,415 293.4,416.8 293.9,417.5 294.5,421.1 295,415.5 295.5,421.3 296,418.7 296.5,425.9 297.1,418.9 297.6,426.7 298.1,416.4 298.6,426.2 299.1,421.7 299.7,426.3 300.2,417.8 300.7,424.6 301.2,420.4 301.7,426.6 302.3,419.8 302.8,425.9 303.3,418.2 303.8,426.4 304.3,419.3 304.9,427.2 305.4,418.5 305.9,425.3 306.4,417.5 306.9,426.4 307.5,420.3 308,427 308.5,419 309,425.1 309.5,424.4 310.1,423.8 310.6,417.2 311.1,425.4 311.6,420.8 312.1,423.1 312.7,417.7 313.2,423.7 313.7,415.9 314.2,423.1 314.7,416.9 315.3,415.4 315.8,414.3 316.3,419.9 316.8,414.8 317.3,420.3 317.9,413.8 318.4,420 318.9,412.6 319.4,419 319.9,412.3 320.5,418.2 321,411.2 321.5,420.2 322,419.6 322.5,418.5 323.1,413.3 323.6,420 324.1,412.6 324.6,420.3 325.1,413.2 325.7,419.4 326.2,413.1 326.7,418.3 327.2,414.9 327.7,421.4 328.3,415.4 328.8,421.1 329.3,414.2 329.8,423.3 330.3,416 330.9,423.6 331.4,415.7 331.9,423.1 332.4,418.9 332.9,422.9 333.5,416.7 334,417.8 334.5,416.8 335,424.7 335.5,418.7 336.1,424.2 336.6,416.1 337.1,421.9 337.6,416.3 338.1,425.9 338.7,420.2 339.2,427.3 339.7,426.1 340.2,427 340.7,415 341.3,425.9 341.8,419.3 342.3,426.3 342.8,415.9 343.3,425.9 343.9,416.7 344.4,427.7 344.9,414.9 345.4,427.7 345.9,416.6 346.5,427.4 347,415.6 347.5,429.2 348,416.7 348.5,427.9 349.1,415.3 349.6,428 350.1,415.8 350.6,420.3 351.1,417 351.7,423.4 352.2,415.5 352.7,428.7 353.2,421 353.7,425.2 354.3,420.1 354.8,428.8 355.3,416.9 355.8,425.9 356.3,415.9 356.9,428.9 357.4,417.2 357.9,428 358.4,418.5 358.9,428 359.5,418.5 360,428.1 360.5,418.6 361,427.4 361.5,420.9 362.1,431.1 362.6,419.8 363.1,420.9 363.6,421.1 364.1,428.4 364.7,421.9 365.2,430.5 365.7,420.9 366.2,427.1 366.7,418.1 367.3,421.5 367.8,426.8 368.3,427.6 368.8,421.3 369.3,429.2 369.9,423.2 370.4,431.9 370.9,420.4 371.4,429.8 371.9,422.4 372.5,428.3 373,421.1 373.5,427.1 374,424.2 374.5,424.2 375.1,420.9 375.6,429.8 376.1,422.1 376.6,431.5 377.1,422.5 377.7,429.5 378.2,422 378.7,429.1 379.2,423.4 379.7,429.8 380.3,423.1 380.8,429.5 381.3,423.5 381.8,431.2 382.3,427.7 382.9,430.2 383.4,424.7 383.9,432.1 384.4,423.9 384.9,429.5 385.5,428 386,432.7 386.5,424.9 387,430.7 387.5,425.3 388.1,432.8 388.6,425.6 389.1,425.6 389.6,426.9 390.1,428.9 390.7,427 391.2,430.8 391.7,426.3 392.2,432 392.7,426.5 393.3,433.8 393.8,431 394.3,432.5 394.8,433.6 395,424.9 395.6,429.5 396.2,431.3 396.8,430 397.4,426.9 398,429.2 398.6,432.4 399.2,426.5 399.8,427.6 400.4,427.8 401,431 401.6,423.8 402.2,425.6 402.8,422 403.4,422.4 404,422.7 404.6,427.2 405.2,430.8 405.8,431.3 406.4,425.5 407,429.6 407.6,423.2 408.2,425.3 408.8,421 409.4,420.7 410,419.9 410.6,422.4 411.2,422.2 411.8,428.1 412.4,428.1 413,423.2 413.6,423.6 414.2,427.2 414.8,422.6 415.4,423.7 416,423.7 416.6,431.5 417.2,425.7 417.8,425.9 418.4,425.5 419,432.2 419.6,432 420.2,432 420.8,428.3 421.4,431.9 422,426.3 422.6,429.6 423.2,426.6 423.8,427.8 424.4,426.8 425,428.7 425.6,428.6 426.2,436 426.8,435.5 427.4,431.3 428,433.4 428.6,431.8 429.2,429.8 429.8,430.1 430.4,430.1 431,432.4 431.6,431.2 432.2,428.8 432.8,426.1 433.4,434.2 434,432.8 434.6,434.2 435.2,434.2 435.8,432.6 436.4,434.3 437,434.9 437.6,434.6 438.2,435.8 438.8,435.4 439.4,429.2 440,433.7 440.6,429.5 441.2,431.5 441.8,435.8 442.4,434.5 443,431.2 443.6,434.4 444.2,432.9 444.8,433.4 445.4,431.7 446,431.3 446.6,431.7 447.2,432.1 447.8,439 448.4,434.4 449,434.1 449.6,435.7 450.2,431.9 450.8,434.8 451.4,432.5 452,433.1 452.6,436.1 453.2,434.8 453.8,431.3 454.4,430.2 455,436.8 455.6,432.1 456.2,436.3 456.8,430.9 457.4,435.6 458,435.5 458.6,433.9 459.2,437.1 459.8,434.2 460.4,436.9 461,432.7 461.6,432.3 462.2,438.4 462.8,436.8 463.4,431.9 464,434.2 464.6,438.3 465.2,432.5 465.8,434.1 466.4,436.3 467,437.3 467.6,437 468.2,436.3 468.8,437.2 469.4,432 470,432.3 470.6,431.2 471.2,432.8 471.8,432.2 472.4,436.1 473,433.7 473.6,431.5 474.2,438 474.8,436.8 475.4,433.2 476,432.2 476.6,437.5 477.2,433 477.8,432.9 478.4,438.9 479,437.9 479.6,436.8 480.2,434.3 480.8,437.2 481.4,436.1 482,437.5 482.6,434.3 483.2,438.2 483.8,438.6 484.4,438.3 485,438.5 485.6,438.4 486.2,439.8 486.8,439.8 487.4,436.1 488,440.1 488.6,438.1 489.2,434.1 489.8,436.9 490.4,438 491,439.1 491.6,435.7 492.2,436.1 492.8,434.5 493.4,435 494,438.7 494.6,435.9 495.2,438.8 495.8,439.9 496.4,440.2 497,439.6 497.6,433.7 498.2,437.9 498.8,439.2 499.4,438.7 500,438.5 500.6,437.2 501.2,437.6 501.8,437.3 502.4,440.6 503,436.8 503.6,437.3 504.2,440.3 504.8,438.9 505.4,439.3 506,440.3 506.6,437.5 507.2,438.4 507.8,438.4 508.4,436 509,441.6 509.6,441.1 510.2,437.4 510.8,439.4 511.4,442.2 512,442.1 512.6,439.1 513.2,439.6 513.8,442.3 514.4,439.3 515,442.8 515.6,443.8 516.2,444 516.8,443 517.4,438.5 518,439.3 518.6,440.2 519.2,443.5 519.8,442.8 520.4,441.7 521,440.4 521.6,443.4 522.2,442.5 522.8,443.1 523.4,446.7 524,443.1 524.6,443.7 525.2,442.9 525.8,441.6 526.4,440.3 527,441.4 527.6,441 528.2,441 528.8,440.8 529.4,443.6 530,442.1 530.6,442.1 531.2,440.2 531.8,440.3 532.4,445.7 533,445.3 533.6,445.4 534.2,443.2 534.8,445.2 535.4,444 536,441.2 536.6,443.6 537.2,443.9 537.8,442.7 538.4,445 539,445.1 539.6,442.7 540.2,442.2 540.8,444.6 541.4,444.8 542,444 542.6,443.7 543.2,444.5 543.8,444.1 544.4,443.7 545,442.3 545.6,444.4 546.2,446.8 546.8,445.2 547.4,442.1 548,444.8 548.6,442.4 549.2,444.7 549.8,446.4 550.4,446.2 551,443.7 551.6,441.6 552.2,442.9 552.8,443.2 553.4,443.5 554,442.7 554.6,445.5 555.2,444.3 555.8,446.1 556.4,443.7 557,442.8 557.6,445.3 558.2,444.6 558.8,446.2 559.4,443.2 560,445.1 560.6,447.8 561.2,443.6 561.8,444.1 562.4,444.1 563,445.7 563.6,446.2 564.2,445 564.8,443.7 565.4,446.7 566,442.6 566.6,443.8 567.2,444 567.8,444.2 568.4,444 569,448.3 569.6,448.6 570.2,447 570.8,448.4 571.4,445.4 572,448.1 572.6,447.3 573.2,447.2 573.8,446.4 574.4,442.6 575,445.5 575.6,443.4 576.2,444.1 576.8,441.9 577.4,444.7 578,444.6 578.6,443.3 579.2,444.1 579.8,442.6 580.4,441.7 581,444.4 581.6,444.6 582.2,441.6 582.8,443.6 583.4,441.3 584,441.2 584.6,442.1 585.2,445.8 585.8,443 586.4,442.7 587,446.7 587.6,443.1 588.2,445 588.8,444.7 589.4,445.2 590,443 590.6,444.3 591.2,442 591.8,442.4 592.4,443.2 593,440.1 593.6,439.2 594.2,442 594.8,443 595.4,440.1 596,440 596.6,440.7 597.2,440.5 597.8,442.3 598.4,444.2 599,441.9 599.6,439.6 600.2,440 600.8,442.5 601.4,441.6 602,441.8 602.6,443.5 603.2,442.1 603.8,441.3 604.4,441.3 605,442.9 605.6,445.1 606.2,443.8 606.8,444.8 607.4,444.9 608,445.1 608.6,442.4 609.2,443.6 609.8,444.4 610.4,440.8 611,440.3 611.6,442.6 612.2,441 612.8,443.1 613.4,441.3 614,442 614.6,442.4 615.2,445 615.8,445.1 616.4,444.7 617,446.1 617.6,443.4 618.2,443.5 618.8,445.9 619.4,445 620,444.3 620.6,444.6 621.2,444.4 621.8,445.3 622.4,444.5 623,444.6 623.6,445.7 624.2,445.3 624.8,445.1 625.4,442.8 626,444.5 626.6,443.3 627.2,442.3 627.8,444 628.4,443.4 629,444.3 629.6,441 630.2,442.5 630.8,444.3 631.4,442.2 632,442.4 632.6,442.6 633.2,441.1 633.8,443.2 634.4,443 635,440 635.6,439.3 636.2,441 636.8,441.7 637.4,441.7 638,439.9 638.6,439.7 639.2,441.4 639.8,437.8 640.4,439.2 641,440.4 641.6,440.9 642.2,439.9 642.8,438.7 643.4,438.4 644,439.9 644.6,439.2 645.2,437.2 645.8,440 646.4,439.6 647,438.8 647.6,439.6 648.2,439.5 648.8,438.2 649.4,440 650,439.2 650.6,438.2 651.2,439.7 651.8,440.4 652.4,441.2 653,440.2 653.6,438.4 654.2,439.1 654.8,440.4 655.4,438.7 656,440 656.6,438.8 657.2,438.6 657.8,441.4 658.4,438.6 659,441.3 659.6,441 660.2,439 660.8,439.2 661.4,440.3 662,442 662.6,442.2 663.2,440.4 663.8,441.9 664.4,438.7 665,440.8 665.6,440.5 666.2,439.4 666.8,442.1 667.4,440.2 668,440.2 668.6,441.8 669.2,441.7 669.8,440.4 670.4,441.1 671,442.6 671.6,440.9 672.2,442.4 672.8,441.8 673.4,442.6 674,440.9 674.6,443.5 675.2,441.1 675.8,442.9 676.4,444.4 677,441.6 677.6,441.7 678.2,442 678.8,441.4 679.4,443.6 680,442.9 680.6,442 681.2,443.4 681.8,442.7 682.4,442 683,441.9 683.6,442.2 684.2,443.9 684.8,444.2 685.4,441.9 686,442.6 686.6,443.3 687.2,442.1 687.8,444 688.4,443.8 689,445.8 689.6,443.4 690.2,443.1 690.8,442.7 691.4,443.7 692,443.5 692.6,442.7 693.2,444.8 693.8,444.9 694.4,444.9 695,445.1 695.6,445.6 696.2,446.3 696.8,445.6 697.4,445.2 698,445.3 698.6,446.1 699.2,446.9 699.8,448.2 700.4,447.8 701,446.7 701.6,445.1 702.2,445.2 702.8,445.2 703.4,444.6 704,445.2 704.6,446 705.2,443.8 705.8,444.4 706.4,446.5 707,445.1 707.6,445.1 708.2,445.2 708.8,445.5 709.4,444.3 710,445.9 710.6,444.3 711.2,446.4 711.8,446 712.4,444.2 713,445 713.6,442.8 714.2,444.8 714.8,443.7 715.4,444 716,443.5 716.6,445.6 717.2,445 717.8,444.5 718.4,444.4 719,445.5 719.6,444 720.2,445 720.8,444 721.4,446.2 722,444.6 722.6,443.4 723.2,444.4 723.8,443.4 724.4,444.5 725,445.2 725.6,444.8 726.2,445.9 726.8,445.6 727.4,446.5 728,445.6 728.6,446.6 729.2,445.6 729.8,446.5 730.4,446.7 731,444.7 731.6,445 732.2,444.8 732.8,444.1 733.4,445 734,445.3 734.6,446.8 735.2,446.6 735.8,445.1 736.4,445.1 737,445.4 737.6,446.3 738.2,445.2 738.8,444.9 739.4,446.2 740,445.3 740.6,445.6 741.2,446.6 741.8,447 742.4,446.4 743,446.5 743.6,446.2 744.2,446 744.8,444.9 745.4,446 746,445.1 746.6,445 747.2,445.1 747.8,445.5 748.4,446.4 749,444.4 749.6,445 750.2,444.5 750.8,446.2 751.4,444.9 752,445.7 752.6,445.7 753.2,446.3 753.8,445.1 754.4,446.5 755,446.7 755.6,445.6 756.2,447.4 756.8,446.8 757.4,445.7 758,446.4 758.6,446.1 759.2,446.8 759.8,445.8 760.4,447.3 761,447.7 761.6,447.5 762.2,445.6 762.8,446.5 763.4,447.1 764,447.1 764.6,447.5 765.2,446.5 765.8,447.5 766.4,447.7 767,447.5 767.6,448.6 768.2,447.8 768.8,447.9 769.4,448.4 770,447.3 770.6,448.8 771.2,448.9 771.8,449.4 772.4,448.4 773,449.1 773.6,448.2 774.2,447.4 774.8,447.8 775.4,449.1 776,447.9 776.6,448 777.2,446.6 777.8,448.7 778.4,448.2 779,448 779.6,449.4 780.2,449.3 780.8,447.9 781.4,448.7 782,449.1 782.6,448.1 783.2,449.1 783.8,447.7 784.4,449 785,449.3 785.6,448.6 786.2,448 786.8,448.9 787.4,449.2 788,448.8 788.6,449.4 789.2,449.8 789.8,448.8 790.4,449.4 791,449.7 791.6,449.6 792.2,447.7 792.8,448.9 793.4,448.8 794,448.1 794.6,449.2 795.2,448.5 795.8,448.1 796.4,449.7 797,449.7 797.6,448.5 798.2,449 798.8,448.9 799.4,448.9 800,448 800.6,448.1 801.2,449.7 801.8,449.2 802.4,449.6 803,450 803.6,449.1 804.2,449.1 804.8,449.6 805.4,448.7 806,449.3 806.6,450.1 807.2,449.3 807.8,448.6 808.4,448.9 809,450 809.6,450.6 810.2,449.5 810.8,450.2 811.4,451.1 812,450.7 812.6,449.4 813.2,449.6 813.8,450.6 814.4,450.4 815,450.4 815.6,449.4 816.2,450 816.8,450.2 817.4,449.6 818,449.9 818.6,449.9 819.2,449.8 819.8,449.6 820.4,451.1 821,451.4 821.6,450.9 822.2,451 822.8,451.9 823.4,452 824,452.3 824.6,451.2 825.2,451.5 825.8,452.3 826.4,451.5 827,451.3 827.6,451.8 828.2,451.9 828.8,451.1 829.4,451.1 830,451 830.6,451 831.2,451.2 831.8,451.8 832.4,451.3 833,451.4 833.6,453 834.2,452.1 834.8,452.4 835.4,452.2 836,453 836.6,453.3 837.2,453.7 837.8,453.9 838.4,453.9 839,452.8 839.6,453 840.2,453.6 840.8,454 841.4,454.4 842,454.3 842.6,454.1 843.2,453.8 843.8,453.3 844.4,452.7 845,453.9 845.6,452.8 846.2,453.8 846.8,454.1 847.4,453.9 848,453.9 848.6,454.1 849.2,453.2 849.8,454.1 850.4,453.8 851,453.7 851.6,454.2 852.2,454 852.8,454.2 853.4,453.5 854,453.3 854.6,453 855.2,454.1 855.8,454.2 856.4,453.7 857,454.4 857.6,453.7 858.2,454.6 858.8,454.1 859.4,454.2 860,453.7 860.6,453.8 861.2,454.6 861.8,453.9 862.4,453.7 863,453.8 863.6,454.6 864.2,454.5 864.8,454 865.4,454.3 866,454.3 866.6,454.6 867.2,454.6 867.8,454.1 868.4,454 869,454.1 869.6,454.6 870.2,454 870.8,454.1 871.4,454.5 872,454.6 872.6,454 873.2,454.1 873.8,454.6 874.4,454.6 875,454.5 875.6,454.1 876.2,454.6 876.8,454.4 877.4,453.6 878,453.8 878.6,453.4 879.2,453.9 879.8,454 880.4,454.2 881,454.6 881.6,454.2 882.2,454.6 882.8,454.1 883.4,454 884,454.6 884.6,453.8 885.2,454.5 885.8,454.6 886.4,454.2 887,454 887.6,453.8 888.2,453.9 888.8,454.1 889.4,454.4 890,454.2 890.6,453.8 891.2,454.1 891.8,454.6 892.4,454.6 893,454.5 893.6,454.3 894.2,454.2 894.8,454.4 895.4,454.6 896,454.6 896.6,454.2 897.2,454.6 897.8,454.6 898.4,454.6 899,454.6 899.6,454.4 900.2,454.6 900.8,454.6 901.4,454.4 902,454.6 902.6,454.3 903.2,454.3 903.8,454.6 904.4,454.6 905,454.3 905.6,454.5 906.2,454 906.8,453.8 907.4,453.7 908,453.4 908.6,453.8 909.2,453.9 909.8,453.8 910.4,453.6 911,453.9 911.6,453.5 912.2,453.9 912.8,453.3 913.4,453 914,453.6 914.6,453.5 915.2,453.4 915.8,453.1 916.4,453.8 917,453.4 917.6,453.4 918.2,453.8 918.8,454 919.4,454 920,453.4 920.6,454 921.2,453.8 921.8,453.2 922.4,453.7 923,453.1 923.6,453.5 924.2,453.3 924.8,453.1 925.4,453.2 926,452.9 926.6,453.7 927.2,453 927.8,453.1 928.4,453.5 929,453.5 929.6,453.7 930.2,453.6 930.8,453.8 931.4,453.7 932,453.5 932.6,454.1 933.2,453.6 933.8,454 934.4,453.6 935,453.3 935.6,453.6 936.2,453.3 936.8,453.3 937.4,453.3 938,453.6 938.6,453.5 939.2,453.6 939.8,453.5 940.4,453.5 941,453.8 941.6,453.9 942.2,453.5 942.8,453.9 943.4,453.2 944,453.6 944.6,453.7 945.2,453.5 945.8,453.3 946.4,453.8 947,453.7 947.6,454 948.2,453.8 948.8,453.8 949.4,453.4 950,453.8 950.6,453.4 951.2,453.8 951.8,453.7 952.4,453.4 953,454 953.6,453.9 954.2,453.6 954.8,453.5 955.4,453.5 956,453.2 956.6,453.4 957.2,453.4 957.8,454 958.4,453.6 959,453.7 959.6,454 960.2,453.6 960.8,453.9 961.4,454 962,454 962.6,453.6 963.2,453.6 963.8,453.8 964.4,453.7 965,453.7 965.6,453.7 966.2,453.3 966.8,453.7 967.4,453.5 968,453.7 968.6,454.3 969.2,454 969.8,454 970.4,454.4 971,454.1 971.6,453.8 972.2,453.8 972.8,454 973.4,453.6 974,454.2 974.6,454.1 975.2,453.7 975.8,453.6 976.4,454.3 977,454.1 977.6,454.3 978.2,453.8 978.8,454.3 979.4,453.9 980,454.2 980.6,454.4 981.2,454 981.8,454.4 982.4,454 983,453.9 983.6,454.2 984.2,454.1 984.8,454 985.4,453.9 986,454.5 986.6,454.4 987.2,453.9 987.8,454.2 988.4,454.1 989,454.2 989.6,453.9 990.2,454 990.8,454.1 991.4,454.4 992,454.1 992.6,453.9 993.2,454.4 993.8,453.8 994.4,453.8 995,454.1 995.6,454.1 996.2,454.3 996.8,453.9 997.4,454.1 998,454.4 998.6,454.1 999.2,454.6 999.8,454.6 1000.4,454.6 1001,454.5 1001.6,454.6 1002.2,454.2 1002.8,454.6 1003.4,454.6 1004,454 1004.6,454.2 1005.2,454.2 1005.8,454.4 1006.4,454.6 1007,454.6 1007.6,454.1 1008.2,454.5 1008.8,454.1 1009.4,454.4 1010,454.4 1010.6,454.1 1011.2,454.3 1011.8,454.5 1012.4,454.6 1013,454.6 1013.6,454.4 1014.2,454.6 1014.8,454.6 1015.4,454.4 1016,454.4 1016.6,454.3 1017.2,454.1 1017.8,454.2 1018.4,454.2 1019,454 1019.6,454 1020.2,454.3 1020.8,454.5 1021.4,454.3 1022,454.3 1022.6,454 1023.2,454.5 1023.8,454 1024.4,454.5 1025,454.4 1025.6,454.4 1026.2,454.2 1026.8,454.6 1027.4,454.4 1028,454.5 1028.6,454.3 1029.2,454.4 1029.8,454.2 1030.4,454.2 1031,454.4 1031.6,454.4 1032.2,454.3 1032.8,454.1 1033.4,454.3 1034,454.5 1034.6,454 1035.2,454.2 1035.8,454.2 1036.4,454.1 1037,453.9 1037.6,454.3 1038.2,454.2 1038.8,454.4 1039.4,454.4 1040,454.5 1040.6,453.9 1041.2,454.4 1041.8,454.6 1042.4,454.2 1043,454.6 1043.6,454.2 1044.2,454.3 1044.8,454.4 1045.4,454.4 1046,454.4 1046.6,454 1047.2,454.4 1047.8,454.5 1048.4,454.2 1049,454.1 1049.6,454.6 1050.2,454.6 1050.8,454.4 1051.4,454.5 1052,454.6 1052.6,454.1 1053.2,454.5 1053.8,454.4 1054.4,454.1 1055,454 1055.6,454.3 1056.2,454.4 1056.8,454.6 1057.4,454.6 1058,454.6 1058.6,454.4 1059.2,454.3 1059.8,454.2 1060.4,454.5 1061,454.6 1061.6,454.3 1062.2,454 1062.8,454.2 1063.4,454.3 1064,454.1 1064.6,454.2 1065.2,454.5 1065.8,454.3 1066.4,454.3 1067,454.2 1067.6,454.2 1068.2,454.4 1068.8,454.2 1069.4,454.3 1070,454.6 1070.6,454.6 1071.2,454.5 1071.8,454.1 1072.4,454.6 1073,454.6 1073.6,454.3 1074.2,454.5 1074.8,454.5 1075.4,454.3 1076,454.4 1076.6,454.4 1077.2,454.6 1077.8,454.5 1078.4,454.6 1079,454.6 1079.6,454.2 1080.2,454.4 1080.8,454.5 1081.4,454.4 1082,454.2 1082.6,454.5 1083.2,454.4 1083.8,454.3 1084.4,454 1085,454 1085.6,454 1086.2,454.1 1086.8,454.4 1087.4,454.4 1088,454.1 1088.6,454.5" fill="none" stroke="#4759AE" stroke-width="5.4" stroke-linejoin="round" stroke-linecap="butt"/>
</g>
<line x1="123.7" y1="297.6" x2="1202.2" y2="297.6" stroke="#000" stroke-opacity="0.6" stroke-width="5"/>
<text x="113.3" y="464.4" text-anchor="end" fill="#E22E2C" font-size="26.5">0</text>
<text x="1213.6" y="464.4" fill="#4759AE" font-size="26.5">0</text>
<text x="113.3" y="364.5" text-anchor="end" fill="#E22E2C" font-size="26.5">0.05</text>
<text x="1213.6" y="364.5" fill="#4759AE" font-size="26.5">50</text>
<text x="113.3" y="264.6" text-anchor="end" fill="#E22E2C" font-size="26.5">0.1</text>
<text x="1213.6" y="264.6" fill="#4759AE" font-size="26.5">100</text>
<text x="113.3" y="164.6" text-anchor="end" fill="#E22E2C" font-size="26.5">0.15</text>
<text x="1213.6" y="164.6" fill="#4759AE" font-size="26.5">150</text>
<text x="113.3" y="64.7" text-anchor="end" fill="#E22E2C" font-size="26.5">0.2</text>
<text x="1213.6" y="64.7" fill="#4759AE" font-size="26.5">200</text>
<text x="267.1" y="491.6" text-anchor="middle" fill="#1d1d1d" font-size="26.5">11:30</text>
<text x="427.6" y="491.6" text-anchor="middle" fill="#1d1d1d" font-size="26.5">11:35</text>
<text x="588.1" y="491.6" text-anchor="middle" fill="#1d1d1d" font-size="26.5">11:40</text>
<text x="748.6" y="491.6" text-anchor="middle" fill="#1d1d1d" font-size="26.5">11:45</text>
<text x="909.2" y="491.6" text-anchor="middle" fill="#1d1d1d" font-size="26.5">11:50</text>
<text x="1069.7" y="491.6" text-anchor="middle" fill="#1d1d1d" font-size="26.5">11:55</text>
<text x="1180.4" y="528.6" text-anchor="end" fill="#1d1d1d" font-size="26.5">Jun 05, 2022</text>
<text x="663.9" y="41.5" text-anchor="middle" fill="#000" font-weight="bold" font-size="53.3">Gazoduc</text>
</g>
<g id="p1">
<line x1="266.5" y1="649.3" x2="266.5" y2="1019.4" stroke="#dddddd" stroke-width="4.6"/>
<line x1="427" y1="649.3" x2="427" y2="1019.4" stroke="#dddddd" stroke-width="4.6"/>
<line x1="587.5" y1="649.3" x2="587.5" y2="1019.4" stroke="#dddddd" stroke-width="4.6"/>
<line x1="748" y1="649.3" x2="748" y2="1019.4" stroke="#dddddd" stroke-width="4.6"/>
<line x1="908.6" y1="649.3" x2="908.6" y2="1019.4" stroke="#dddddd" stroke-width="4.6"/>
<line x1="1069.1" y1="649.3" x2="1069.1" y2="1019.4" stroke="#dddddd" stroke-width="4.6"/>
<line x1="123.7" y1="634.4" x2="1203.2" y2="634.4" stroke="#1d1d1d" stroke-width="5.2"/>
<line x1="123.7" y1="1034.3" x2="1203.2" y2="1034.3" stroke="#1d1d1d" stroke-width="5.2"/>
<line x1="266.5" y1="634.4" x2="266.5" y2="647.2" stroke="#1d1d1d" stroke-width="5.2"/>
<line x1="266.5" y1="1034.3" x2="266.5" y2="1021.5" stroke="#1d1d1d" stroke-width="5.2"/>
<line x1="427" y1="634.4" x2="427" y2="647.2" stroke="#1d1d1d" stroke-width="5.2"/>
<line x1="427" y1="1034.3" x2="427" y2="1021.5" stroke="#1d1d1d" stroke-width="5.2"/>
<line x1="587.5" y1="634.4" x2="587.5" y2="647.2" stroke="#1d1d1d" stroke-width="5.2"/>
<line x1="587.5" y1="1034.3" x2="587.5" y2="1021.5" stroke="#1d1d1d" stroke-width="5.2"/>
<line x1="748" y1="634.4" x2="748" y2="647.2" stroke="#1d1d1d" stroke-width="5.2"/>
<line x1="748" y1="1034.3" x2="748" y2="1021.5" stroke="#1d1d1d" stroke-width="5.2"/>
<line x1="908.6" y1="634.4" x2="908.6" y2="647.2" stroke="#1d1d1d" stroke-width="5.2"/>
<line x1="908.6" y1="1034.3" x2="908.6" y2="1021.5" stroke="#1d1d1d" stroke-width="5.2"/>
<line x1="1069.1" y1="634.4" x2="1069.1" y2="647.2" stroke="#1d1d1d" stroke-width="5.2"/>
<line x1="1069.1" y1="1034.3" x2="1069.1" y2="1021.5" stroke="#1d1d1d" stroke-width="5.2"/>
<line x1="123.7" y1="631.8" x2="123.7" y2="1036.9" stroke="#E22E2C" stroke-width="5.2"/>
<line x1="1203.2" y1="631.8" x2="1203.2" y2="1036.9" stroke="#4759AE" stroke-width="5.2"/>
<line x1="123.7" y1="1034.3" x2="137.7" y2="1034.3" stroke="#E22E2C" stroke-width="5.2"/>
<line x1="1203.2" y1="1034.3" x2="1189.8" y2="1034.3" stroke="#4759AE" stroke-width="5.2"/>
<line x1="123.7" y1="934.3" x2="137.7" y2="934.3" stroke="#E22E2C" stroke-width="5.2"/>
<line x1="1203.2" y1="934.3" x2="1189.8" y2="934.3" stroke="#4759AE" stroke-width="5.2"/>
<line x1="123.7" y1="834.3" x2="137.7" y2="834.3" stroke="#E22E2C" stroke-width="5.2"/>
<line x1="1203.2" y1="834.3" x2="1189.8" y2="834.3" stroke="#4759AE" stroke-width="5.2"/>
<line x1="123.7" y1="734.4" x2="137.7" y2="734.4" stroke="#E22E2C" stroke-width="5.2"/>
<line x1="1203.2" y1="734.4" x2="1189.8" y2="734.4" stroke="#4759AE" stroke-width="5.2"/>
<line x1="123.7" y1="634.4" x2="137.7" y2="634.4" stroke="#E22E2C" stroke-width="5.2"/>
<line x1="1203.2" y1="634.4" x2="1189.8" y2="634.4" stroke="#4759AE" stroke-width="5.2"/>
<clipPath id="c1"><rect x="123.7" y="634.4" width="1079.5" height="400.2"/></clipPath>
<g clip-path="url(#c1)">
<path d="M301.1,810 302,814.4 303.2,914.3 304.4,864.3 305.6,884.3 306.8,910.3 308,866.3 309.3,914.3 310.5,878.3 311.8,910.3 313,886.3 314.3,856.3 316.2,846.3 317.5,890.3 318.8,842.3 320,839.3 321.5,840.3 322.6,864.3 323.5,848.3 325,862.3 326.5,884.3 328,894.3 330,894.3 334,898.3 335.5,888.3 337,902.3 338.5,890.3 340,918.3 341.2,931.3 342.5,898.3 344,904.3 345.5,912.3" fill="none" stroke="#E22E2C" stroke-width="5.4" stroke-linejoin="round" stroke-linecap="butt"/>
<path d="M331,980.7 331,1001.3" fill="none" stroke="#E22E2C" stroke-width="5.4" stroke-linejoin="round" stroke-linecap="butt"/>
<path d="M359.4,875.4 360.7,909.5 362,878.4 363.3,901.5 364.6,878.9 365.9,896.3 367.2,886.3 368.5,903.6 369.8,876.9 371.1,918.6 372.4,933.4 373.7,922.6 375,853.9 376.3,908.6 377.6,860.4 378.9,904.6 380.2,833.8 381.5,893.5 382.8,874.7 384.1,924.9 385.4,916.3 386.7,887.8 388,863.3 389.3,889.4 390.6,829.1 391.9,896.7 393.2,857 394.5,913.3 395.8,916.3 397.1,902.3 398.4,843.4 399.7,877.4 401,850 402.3,873 403.6,879.8 404.9,966.5 406.2,959 407.5,898.2 408.8,854.4 410.1,894.3 411.4,831 412.7,881.6 414,857.9 415.3,877.2 416.6,868.4 417.9,890.4 419.2,893.6 420.5,916.2 421.8,915.9 423.1,864.7 424.4,846.2 425.7,873.7 427,851 428.3,868.9 429.6,845.7 430.9,883.8 432.2,842.2 433.5,873.7 434.8,836.2 436.1,860.8 437.4,868.1 438.7,902.4 440,946.1 441.3,1025.2 442.6,956.4 443.9,891.8 445.2,845.4 446.5,882.2 447.8,835.4 449.1,886.7 450.4,873.1 451.7,916.3 453,906 454.3,888.8 455.6,834.2 456.9,875.6 458.2,840.8 459.5,860.5 460.8,839.7 462.1,849.7 463.4,823.8 464.7,881.9 466,894.9 467.3,930.3 468.6,884.2 469.9,867.6 470,837.1 470.7,869 471.4,855.5 472.1,884.6 472.8,841.5 473.5,869.5 474.2,843 474.9,882 475.6,856.9 476.3,863.1 477,838.9 477.7,871.1 478.4,841.2 479.1,872.3 479.8,863.5 480.5,888.7 481.2,910.2 481.9,939.5 482.6,945.1 483.3,930.4 484,889.9 484.7,891.6 485.4,855.7 486.1,882.5 486.8,851.1 487.5,880.9 488.2,846.2 488.9,859.7 489.6,855 490.3,892.7 491,913.4 491.7,946 492.4,949.9 493.1,930 493.8,899.9 494.5,895.1 495.2,855.3 495.9,873.1 496.6,842.8 497.3,877.4 498,853.6 498.7,866.1 499.4,864.8 500.1,871.5 500.8,822.9 501.5,865.7 502.2,835.8 502.9,868.5 503.6,824.2 504.3,865 505,861 505.7,861.5 506.4,876.5 507.1,914.5 507.8,937.9 508.5,940.7 509.2,913 509.9,896.6 510.6,847.1 511.3,860.7 512,824.8 512.7,826.5 513.4,820.4 514.1,829.7 514.8,829.5 515.5,859.5 516.2,831.2 516.9,874.9 517.6,835.2 518.3,873.5 519,858.8 519.7,896.3 520.4,912.2 521.1,932.5 521.8,926 522.5,907.9 523.2,869.7 523.9,860.8 524.6,837.3 525.3,870.2 526,838.2 526.7,873.5 527.4,836.9 528.1,880.8 528.8,849.6 529.5,895.7 530.2,899.8 530.9,918.8 531.6,914.5 532.3,901.8 533,866.1 533.7,880.3 534.4,842 535.1,877.3 535.8,832.6 536.5,872 537.2,846.4 537.9,883 538.6,886.2 539.3,916.4 540,924.3 540.7,917.2 541.4,895.5 542.1,883.8 542.8,846.7 543.5,874.5 544.2,832.4 544.9,872.1 545.6,839.3 546.3,872.1 547,839.6 547.7,877.7 548.4,836.6 549.1,869.5 549.8,844.6 550.5,849.3 551.2,863.7 551.9,901.9 552.6,931.9 553.3,949.3 554,935.8 554.7,909.9 555.4,870.8 556.1,869.3 556.8,841.6 557.5,865.2 558.2,843.3 558.9,875.9 559.6,852.3 560.3,890.9 561,904.6 561.7,934.6 562.4,939.1 563.1,923.7 563.8,895.1 564.5,876.1 565.2,838.7 565.9,827.4 566.6,814.7 567.3,819 568,825.4 568.7,856.4 569.4,834.5 570.1,863.4 570.8,852.1 571.5,844.7 572.2,841.2 572.9,858.2 573.6,836.4 574.3,870.7 575,867.5 575.7,898.4 576.4,911.5 577.1,934.4 577.8,928 578.5,911.4 579.2,869.5 579.9,878.6 580.6,846.2 581.3,877.3 582,858.6 582.7,906.6 583.4,929.4 584.1,959.5 584.8,956.6 585.5,933.1 586.2,883.7 586.9,880 587.6,861.7 588.3,856.3 589,826.5 589.7,819.5 590.4,799.9 591.1,802.1 591.8,811.5 592.5,851.3 593.2,832.7 593.9,865.2 594.6,837.8 595.3,870.4 596,842.7 596.7,867.4 597.4,837.5 598.1,863.5 598.8,840.1 599.5,865.5 600.2,843.5 600.9,869.2 601.6,851.3 602.3,879.3 603,894 603.7,948.8 604.4,990.1 605.1,1014.5 605.8,1024.3 606.5,1007.2 607.2,945 607.9,912.7 608.6,843.9 609.3,874.9 610,833.3 610.7,870.5 611.4,830.9 612.1,867.9 612.8,844.9 613.5,876.8 614.2,845.3 614.9,880.4 615.6,841.5 616.3,869.5 617,835.9 617.7,873.5 618.4,847.8 619.1,873 619.8,880.4 620.5,903.3 621.2,903.5 621.9,897.2 622.6,861.2 623.3,882.1 624,840.9 624.7,879.3 625.4,861 626.1,874.5 626.8,845.3 627.5,864.5 628.2,842.2 628.9,868.1 629.6,839.1 630.3,863 631,838.7 631.7,864.4 632.4,834.5 633.1,839.5 633.8,827.3 634.5,859.4 635.2,828 635.9,848.9 636.6,861.1 637.3,910.1 638,930.3 638.7,945.3 639.4,929.8 640.1,908.5 640.8,866.4 641.5,874.6 642.2,845.7 642.9,868.9 643.6,840.7 644.3,861.2 645,831.3 645.7,864.1 646.4,827.1 647.1,865.6 647.8,830.8 648.5,862.8 649.2,835.3 649.9,867.1 650.6,834.5 651.3,876.8 652,861.1 652.7,900.7 653.4,909 654.1,910.8 654.8,894.5 655.5,888.6 656.2,850.5 656.9,882.9 657.6,839.8 658.3,883 659,833 659.7,870.9 660.4,833.7 661.1,868 661.8,836.7 662.5,889 663.2,900 663.9,918.2 664.6,923.3 665.3,911.8 666,880 666.7,876.4 667.4,844.7 668.1,866.8 668.8,837.9 669.5,867.7 670.2,851 670.9,867.1 671.6,836.4 672.3,872.2 673,838.9 673.7,869.2 674.4,839.8 675.1,848.5 675.8,837.8 676.5,865.5 677.2,847.5 677.9,866.9 678.6,851.7 679.3,892.2 680,908.8 680.7,945.8 681.4,955 682.1,939.8 682.8,898.2 683.5,889.4 684.2,847.1 684.9,870.5 685.6,836.5 686.3,868.4 687,835.8 687.7,874.3 688.4,832.2 689.1,872.9 689.8,833.1 690.5,874.2 691.2,830.7 691.9,841.8 692.6,839.2 693.3,862.8 694,845.4 694.7,854.5 695.4,865.3 696.1,871.6 696.8,883 697.5,887.2 698.2,887.3 698.9,886.9 699.6,875.1 700.3,878.2 701,850 701.7,871.1 702.4,847.9 703.1,866.2 703.8,844.9 704.5,866.6 705.2,857.5 705.9,887.6 706.6,903.2 707.3,932.8 708,937.2 708.7,922.1 709.4,884.4 710.1,883.8 710.8,852.1 711.5,866.6 712.2,845.2 712.9,860.7 713.6,836.6 714.3,848.9 715,841.8 715.7,861.8 716.4,838.1 717.1,867.9 717.8,839.5 718.5,870.1 719.2,851.7 719.9,892.4 720.6,913.9 721.3,952.7 722,970.3 722.7,956 723.4,911.9 724.1,896.4 724.8,852.9 725.5,877.7 726.2,849.8 726.9,883.1 727.6,845.4 728.3,880.4 729,837.8 729.7,866.5 730.4,839.3 731.1,860.5 731.8,836.9 732.5,860.7 733.2,842.8 733.9,862.4 734.6,845.4 735.3,863.8 736,838.6 736.7,866 737.4,859.4 738.1,866.5 738.8,838.3 739.5,867.4 740.2,855.6 740.9,886.9 741.6,912.8 742.3,927.1 743,918.4 743.7,907.4 744.4,882.5 745.1,861.6 745.8,835.6 746.5,873.6 747.2,836.5 747.9,882.4 748.6,893.1 749.3,911 750,908.2 750.7,901.1 751.4,863.4 752.1,876.8 752.8,833.9 753.5,881.4 754.2,837 754.9,879.3 755.6,840.4 756.3,870.7 757,832.8 757.7,869.3 758.4,830.6 759.1,868.4 759.8,838.1 760.5,855.1 761.2,850.8 761.9,888.3 762.6,918.5 763.3,955 764,962 764.7,937.9 765.4,887.4 766.1,865.2 766.8,837.7 767.5,850.2 768.2,827.3 768.9,860.8 769.6,828 770.3,856.6 771,852.3 771.7,882.4 772.4,885 773.1,884.3 773.8,871.9 774.5,879.2 775.2,867.9 775.9,871.9 776.6,846.8 777.3,874.6 778,846 778.7,862.9 779.4,843.3 780.1,880.7 780.8,843.8 781.5,880.7 782.2,845 782.9,875 783.6,853.6 784.3,898.8 785,903.8 785.7,921.9 786.4,919.1 787.1,908.5 787.8,866.9 788.5,874 789.2,838.6 789.9,864 790.6,854.4 791.3,858.9 792,836.4 792.7,860.9 793.4,848.2 794.1,879.4 794.8,890 795.5,909 796.2,906.7 796.9,896.5 797.6,864.6 798.3,877.3 799,847.6 799.7,872.2 800.4,839 801.1,845 801.8,844.8 802.5,865.6 803.2,841.5 803.9,841.8 804.6,837.7 805.3,873.3 806,837.3 806.7,869.3 807.4,845.2 808.1,866 808.8,849.7 809.5,868.3 810.2,878.6 810.9,907.3 811.6,916.5 812.3,914.1 813,890.2 813.7,886.3 814.4,852.5 815.1,872.5 815.8,867.8 816.5,884.4 817.2,887.2 817.9,882.3 818.6,863 819.3,857 820,839.6 820.7,865.7 821.4,854.7 822.1,865 822.8,842.2 823.5,863 824.2,850.7 824.9,859.6 825.6,835.5 826.3,860.7 827,833.4 827.7,860.2 828.4,855.8 829.1,842.6 829.8,861.6 830.5,861.2 831.2,838.8 831.9,866.9 832.6,839.8 833.3,851.5 834,840.6 834.7,864.4 835.4,834.6 836.1,866.2 836.8,874.2 837.5,904.1 838.2,910.4 838.9,908 839.6,886.1 840.3,891 841,878.3 841.7,883.7 842.4,848.1 843.1,877.8 843.8,858.5 844.5,872.6 845.2,849.8 845.9,864.6 846.6,849.7 847.3,864.7 848,845 848.7,860.5 849.4,848.3 850.1,862.6 850.8,850.4 851.5,869.8 852.2,862 852.9,892.9 853.6,903.8 854.3,917.2 855,909.6 855.7,895.8 856.4,863.9 857.1,873.1 857.8,845 858.5,866.3 859.2,848.5 859.9,873.9 860.6,837.7 861.3,876.5 862,864.3 862.7,856.9 863.4,867.2 864.1,866.1 864.8,843.6 865.5,870 866.2,839 866.9,862.6 867.6,844.4 868.3,877 869,878.6 869.7,904.5 870.4,911.3 871.1,904.8 871.8,879.1 872.5,875.1 873.2,862 873.9,851 874.6,843.3 875.3,863.3 876,840.8 876.7,859.6 877.4,842 878.1,862.2 878.8,847.9 879.5,859.4 880.2,845.5 880.9,850.4 881.6,848.2 882.3,855.9 883,850.3 883.7,851.4 884.4,848.6 885.1,867.8 885.8,853.9 886.5,867 887.2,847.6 887.9,862.8 888.6,845.5 889.3,867.8 890,862.6 890.7,873.1 891.4,848 892.1,875.4 892.8,854.3 893.5,871.7 894.2,879.7 894.9,893.4 895.6,892.9 896.3,886.8 897,865 897.7,873.4 898.4,860.8 899.1,866.6 899.8,844.9 900.5,860.4 901.2,841.6 901.9,865.7 902.6,842.8 903.3,864.9 904,845.3 904.7,868.6 905.4,854.7 906.1,884.4 906.8,889.5 907.5,904.4 908.2,902.2 908.9,895.6 909.6,861.4 910.3,875 911,844.4 911.7,871 912.4,836.5 913.1,866.8 913.8,840.5 914.5,870.8 915.2,848.7 915.9,867.3 916.6,838.4 917.3,867.6 918,847.8 918.7,853.1 919.4,839.9 920.1,855.4 920.8,840.3 921.5,872.7 922.2,845.9 922.9,871.8 923.6,849.2 924.3,869.6 925,850.1 925.7,875.5 926.4,871.3 927.1,873.5 927.8,877.9 928.5,879.8 929.2,868.1 929.9,867.7 930.6,848.2 931.3,855.6 932,855.3 932.7,877.9 933.4,887.9 934.1,877.9 934.8,842.7 935.5,828.3 936.2,827.8 936.9,845 937.6,838.4 938.3,863.2 939,841.2 939.7,862.8 940.4,836.9 941.1,870.9 941.8,842 942.5,870.5 943.2,845.3 943.9,871.7 944.6,852 945.3,871.4 946,859.5 946.7,871.2 947.4,855.1 948.1,858.5 948.8,853.7 949.5,850.4 950.2,837.3 950.9,833.5 951.6,835.1 952.3,848.9 953,850.2 953.7,864 954.4,847.3 955.1,859.1 955.8,846.2 956.5,870.5 957.2,850.4 957.9,874.9 958.6,849.8 959.3,859.3 960,850.5 960.7,875.3 961.4,851.4 962.1,858.4 962.8,847.5 963.5,862.7 964.2,842.5 964.9,834.9 965.6,829.4 966.3,835.6 967,837.5 967.7,861.3 968.4,846.8 969.1,874.3 969.8,846 970.5,874.1 971.2,853.4 971.9,858.7 972.6,852.8 973.3,875.3 974,854.3 974.7,876.6 975.4,861.7 976.1,876.7 976.8,860.5 977.5,868.9 978.2,855.3 978.9,861.1 979.6,851 980.3,858.1 981,859.5 981.7,870.4 982.4,885.7 983.1,890.9 983.8,865.5 984.5,842 985.2,835 985.9,842 986.6,844.7 987.3,865.2 988,848.8 988.7,864.4 989.4,852.8 990.1,863.6 990.8,852.6 991.5,867.8 992.2,854.4 992.9,872.5 993.6,859.4 994.3,881.6 995,885 995.7,870.7 996.4,843.3 997.1,834.2 997.8,840 998.5,856.1 999.2,861.4 999.9,872.2 1000.6,866.9 1001.3,874.3 1002,861.2 1002.7,869.6 1003.4,854.8 1004.1,867.5 1004.8,852.6 1005.5,866.4 1006.2,844 1006.9,866.2 1007.6,848.2 1008.3,867.1 1009,855.6 1009.7,848 1010.4,838 1011.1,836.5 1011.8,839.3 1012.5,854.5 1013.2,850.6 1013.9,869.6 1014.6,864.5 1015.3,870.7 1016,855.1 1016.7,870.8 1017.4,867.6 1018.1,874 1018.8,862.2 1019.5,877.6 1020.2,866.6 1020.9,878.8 1021.6,864.1 1022.3,871.8 1023,858.5 1023.7,851.3 1024.4,838.7 1025.1,835.5 1025.8,840.5 1026.5,852.1 1027.2,858.8 1027.9,864 1028.6,861.3 1029.3,864.2 1030,860.1 1030.7,864.3 1031.4,857.9 1032.1,864.6 1032.8,857.7 1033.5,863 1034.2,862.2 1034.9,864.6 1035.6,855.5 1036.3,858.3 1037,857.4 1037.7,866.5 1038.4,858.7 1039.1,867.7 1039.8,861.1 1040.5,875.6 1041.2,866 1041.9,877.9 1042.6,869.2 1043.3,878.5 1044,866.5 1044.7,872.6 1045.4,865.2 1046.1,877.8 1046.8,863.3 1047.5,872.4 1048.2,858.6 1048.9,873.3 1049.6,869.7 1050.3,861.4 1051,858.9 1051.7,869.7 1052.4,858.7 1053.1,869.1 1053.8,865.9 1054.5,869.7 1055.2,862 1055.9,878.6 1056.6,891.5 1057.3,918.1 1058,923.1 1058.7,904.2 1059.4,882.1 1060.1,864.8 1060.8,847.2 1061.5,844.4 1062.2,845.5 1062.9,861 1063.6,858.9 1064.3,875.9 1065,879.2 1065.7,896.3 1066.4,875.7 1067.1,844.6 1067.8,828.7 1068.5,833.7 1069.2,838 1069.9,859.3 1070.6,848.1 1071.3,854.7 1072,855 1072.7,868 1073.4,856.3 1074.1,867 1074.8,862.8 1075.5,869.8 1076.2,862.8 1076.9,871.7 1077.6,862.5 1078.3,869 1079,866.7 1079.7,873.2 1080.4,857 1081.1,869.9 1081.8,852.5 1082.5,868.7 1083.2,859.3 1083.9,870.3 1084.6,853 1085.3,870.3 1086,855.6 1086.7,870.9 1087.4,860.4 1088.1,872.8 1088.8,866.2 1089.5,869 1090.2,869.6 1090.9,870.7 1091.6,869.5 1092.3,870.3 1093,867.6 1093.7,870.1 1094.4,864.2 1095.1,864.6 1095.8,860.3 1096.5,868.4 1097.2,857.6 1097.9,868.6 1098.6,853.8 1099.3,870.7 1100,854.5 1100.7,861.9 1101.4,850.7 1102.1,873.4 1102.8,852.9 1103.5,870.7 1104.2,857.6 1104.9,870.1 1105.6,863 1106.3,871.1 1107,869.1 1107.7,871.4 1108.4,858.7 1109.1,874.2 1109.8,856.4 1110.5,875 1111.2,856.6 1111.9,873.5 1112.6,862 1113.3,876.3 1114,866.8 1114.7,875.7 1115.4,877.3 1116.1,889.2 1116.8,882.8 1117.5,858.1 1118.2,837.7 1118.9,838.9 1119.6,847.3 1120.3,866.3 1121,865.3 1121.7,877.5 1122.4,870.2 1123.1,877.7 1123.8,875.2 1124.5,877.2 1125.2,875.8 1125.9,877.8 1126.6,871.9 1127.3,873.1 1128,866.1 1128.7,864.6 1129.4,858.5 1130.1,872.2 1130.8,856.4 1131.5,869.6 1132.2,859.2 1132.9,875.1 1133.6,859.8 1134.3,878 1135,865.2 1135.7,875.8 1136.4,863.9 1137.1,877.3 1137.8,870.4 1138.5,876.1 1139.2,861.8 1139.9,876.7 1140.6,859.9 1141.3,864.9 1142,853 1142.7,851.1 1143.4,851 1144.1,858.6 1144.8,866.1 1145.5,873.3 1146.2,875.3 1146.9,876.1 1147.6,875.4 1148.3,872.6 1149,870.7 1149.7,875.2 1150.4,869.1 1151.1,875.8 1151.8,867.1 1152.5,875.9 1153.2,865.2 1153.9,871 1154.6,862.3 1155.3,870.4 1156,861.6 1156.7,863.1 1157.4,856.2 1158.1,852.5 1158.8,851 1159.5,860.7 1160.2,876.7 1160.9,885.2 1161.6,882.4 1162.3,878.5 1163,877.3 1163.7,884.8 1164.4,880.7 1165.1,863.6 1165.8,851.1 1166.5,851.6 1167.2,857.2 1167.9,869.3 1168.6,868.2 1169.3,875.4 1170,863.3 1170.7,876 1171.4,862.7 1172.1,871.2 1172.8,858.8 1173.5,863.8 1174.2,862 1174.9,872.4 1175.6,863.4 1176.3,873.9 1177,870.1 1177.7,873.3 1178.4,875.4 1179.1,877.1 1179.8,879.4 1180.5,876.4 1181.2,879.9 1181.9,873.8 1182.6,877.4 1183.3,869.3 1184,877.9 1184.7,868.5 1185.4,878.1 1186.1,867.5 1186.8,874.9 1187.5,869.2 1188.2,871.4 1188.9,871.7 1189.6,869.4 1190.3,872.4 1191,866.8 1191.7,872 1192.4,868.1 1193.1,874.6 1193.8,868.9 1194.5,877.3 1195.2,871.8 1195.9,877.9 1196.6,876.4 1197.3,877.5 1198,872.4 1198.7,870.9 1199.4,864.4 1200.1,859 1200.8,857.6 1201.5,862.4" fill="none" stroke="#E22E2C" stroke-width="5.4" stroke-linejoin="round" stroke-linecap="butt"/>
<path d="M240,1033.9 298.4,1033.9 300.2,985.1 302.9,958.3 305.6,912.3 308.2,931.7 309.1,943.8 310,951.2 310.9,955.6 311.8,958.3 314,955.8 316.2,937.1 317.3,950 318.4,957.9 319.6,962.6 320.7,965.5 322,962.5 324.2,940.5 325.1,947.1 326,951 326.9,953.5 327.8,954.9 329.6,905.1 331.3,837.5 334,860.5 336.7,890.9 338.5,895.8 340.2,898.7 342,900.5 343.8,901.5 345.6,911.3 347.4,917.2 349.1,920.8 350.9,922.9 356.2,917.5 357.6,922.4 358.9,925.3 360.2,927.1 361.6,928.1 363.2,941.9 364.7,950.2 366.2,955.3 367.8,958.3 370,955.8 372.2,937.1 373.7,952.9 375.2,964.1 376.6,972.2 378.1,978 379.6,982.1 381.1,985.1 382.5,978.5 384.7,929.9 386,952.6 387.4,966.3 388.7,974.7 390,979.7 393.1,972.9 395.3,922.9 397.1,947.1 398.9,961.8 400.6,970.7 402.4,976.1 405.1,908.5 407.3,936.5 409.5,956.6 411.8,970.9 414,981.2 416.2,988.6 418.4,993.9 421.1,922.9 422.2,934.2 423.4,941.1 424.5,945.2 425.6,947.7 428,967.5 430.3,981.7 432.7,991.9 435.1,999.1 437.4,1004.4 439.8,1008.1 441.6,908.5 442.9,936.5 444.3,956.6 445.6,970.9 446.9,981.2 448.3,988.6 449.6,993.9 452.2,921.1 454.3,948.5 456.4,968 458.4,982.1 460.5,992.1 462.6,999.3 464.7,1004.5 467.2,929.9 469.3,956.1 471.3,974.9 473.4,988.4 475.5,998 477.5,1005 479.6,1009.9 482.2,945.9 483.8,973.4 485.3,990.1 486.8,1000.2 488.4,1006.3 489.8,999.7 492,951.3 494.2,971.7 496.4,986.3 498.6,996.8 500.9,1004.3 503.1,1009.7 505.3,1013.5 508,943.3 509.8,966.9 511.6,983.8 513.4,995.9 515.1,1004.6 516.9,1010.8 518.7,1015.3 521.3,967.3 522.9,987.5 524.5,999.8 526,1007.2 527.6,1011.7 528.9,1007.3 531.1,975.3 532.2,990.3 533.4,999.4 534.5,1005 535.6,1008.3 537.8,1003.9 540,971.7 541.8,988.3 543.6,1000.2 545.4,1008.7 547.1,1014.8 548.9,1019.2 550.7,1022.3 553.3,969.1 554.4,992.6 555.5,1006.8 556.7,1015.5 557.8,1020.7 560,1014.9 562.2,972.7 564.3,990.5 566.4,1003.2 568.5,1012.3 570.5,1018.9 572.6,1023.5 574.7,1026.9 577.3,979.7 578.4,995.1 579.5,1004.4 580.7,1010.1 581.8,1013.5 584.4,961.9 587.1,983.5 589.7,998.9 592.4,1010 595.1,1017.9 597.7,1023.6 600.4,1027.7 602.7,1019.4 604.9,958.3 607,981.1 609,997.4 611.1,1009 613.2,1017.4 615.2,1023.4 617.3,1027.7 619.6,1024 621.8,996.5 623.7,1008.5 625.6,1017.1 627.5,1023.3 629.5,1027.7 631.4,1030.8 633.3,1033.1 636.5,1027.6 638.7,986.9 639.8,1000.7 640.9,1009 642,1014 643.1,1017.1 645.8,1001.1 647.1,1010.8 648.5,1016.6 649.8,1020.2 651.1,1022.3 653.8,992.1 655.1,1004.4 656.5,1013.2 657.8,1019.4 659.1,1024 660.5,1027.2 661.8,1029.5 664,1025.1 666.2,993.1 668.1,1006.2 670.1,1015.6 672,1022.3 673.9,1027.2 675.9,1030.6 677.8,1033.1 680,1027.6 682.2,986.9 684,1001.7 685.8,1012.3 687.5,1019.9 689.3,1025.4 691.1,1029.3 692.9,1032.1 697.6,1027.4 699.8,993.1 700.9,1004.8 702,1012 703.1,1016.3 704.2,1018.9 705.6,1014.2 707.8,979.7 709.6,996 711.3,1007.7 713.1,1016.1 714.9,1022.1 716.6,1026.4 718.4,1029.5 719.8,1023.7 722,981.5 724.5,998.1 727,1010 729.5,1018.5 732.1,1024.6 734.6,1029 737.1,1032.1 740.2,1027.5 742.4,993.9 743.3,1000.9 744.2,1005.2 745.1,1007.7 746,1009.3 747.4,1007.4 749.6,993.1 751.4,1005.3 753.1,1014 754.9,1020.3 756.7,1024.8 758.4,1028 760.2,1030.3 761.6,1022.3 763.8,963.7 764.9,977.5 766,985.8 767.1,990.8 768.2,993.9 770,1009.9 772.7,992.1 774,1000.3 775.4,1006.2 776.7,1010.4 778,1013.4 779.4,1015.6 780.7,1017.1 783.8,1013.7 786,988.5 787.5,1002.3 789.1,1010.7 790.7,1015.8 792.2,1018.9 793.6,1015.8 795.8,993.1 797.7,1003.3 799.6,1010.6 801.5,1015.8 803.5,1019.5 805.4,1022.2 807.3,1024.1 809.6,1020.8 811.8,996.5 814.5,1008.3 817.1,1000.1 818.9,1008.9 820.7,1015.2 822.5,1019.7 824.2,1022.9 826,1025.2 827.8,1026.9 832.2,1011.7 835,1016.3 838.4,1001.1 840.2,1010.2 842,1016.6 843.8,1021.3 845.5,1024.6 847.3,1027 849.1,1028.7 854.9,1024.2 857.1,991.3 858.6,1002.1 860.1,1009.8 861.5,1015.3 863,1019.2 864.5,1022.1 866,1024.1 868.2,1021.1 870.4,999.3 871.7,1008.4 873.1,1014.8 874.4,1019.5 875.7,1022.8 877.1,1025.2 878.4,1026.9 883.4,1024.7 885.6,1008.3 896.2,997.5 897.8,1006.2 899.5,1012.5 901.1,1017 902.7,1020.2 904.4,1022.5 906,1024.1 907.8,1000.1 909.4,1003.9 911.1,1006.6 912.7,1008.6 914.3,1010 916,1011 917.6,1011.7 919.4,1015.7 921,1015.4 921.9,1018.9 922.8,1018 923.7,1019.9 924.6,1019.6 925.5,1013.6 926.4,1012.2 927.3,1013.3 928.2,1015.3 929.1,1018.4 930,1018.3 930.9,1017.1 931.8,1015.2 932.7,1014.4 933.6,1012.3 934.5,1006.1 935.4,1005.5 936.3,1009 937.2,1010.7 938.1,1011.9 939,1013.5 939.9,1016.3 940.8,1014.4 941.7,1017.9 942.6,1021.4 943.5,1021.8 944.4,1022.1 945.3,1022.7 946.2,1020.1 947.1,1017.3 948,1017.3 948.9,1015.8 949.8,1017.4 950.7,1013.9 951.6,1009.8 952.5,1011.4 953.4,1009.6 954.3,1007.3 955.2,1010.2 956.1,1011.8 957,1013.5 957.9,1012.6 958.8,1011.9 959.7,1011.3 960.6,1012.7 961.5,1012.2 962.4,1011.2 963.3,1008.8 964.2,1008.6 965.1,1007.7 966,1008.7 966.9,1011 967.8,1015.1 968.7,1019.7 969.6,1020.9 970.5,1021.8 971.4,1024.2 972.3,1024.3 973.2,1021.8 974.1,1022.1 975,1024.7 975.9,1021.6 976.8,1018.2 977.7,1019.7 978.6,1022.2 979.5,1019.6 980.4,1018.1 981.3,1018.4 982.2,1017.7 983.1,1017.3 984,1016.6 984.9,1014.4 985.8,1010.3 986.7,1011.7 987.6,1015.8 988.5,1021.4 989.4,1025.3 990.3,1026.3 991.2,1027.9 992.1,1026.8 993,1023.7 993.9,1020.9 994.8,1023.1 995.7,1021.8 996.6,1016.7 997.5,1012.9 998.4,1015.6 999.3,1018.9 1000.2,1020 1001.1,1022.3 1002,1024.6 1002.9,1019.9 1003.8,1018.9 1004.7,1022.2 1005.6,1021.4 1006.5,1020.4 1007.4,1022 1008.3,1020.9 1009.2,1017.4 1010.1,1017 1011,1019.5 1011.9,1021.6 1012.8,1021.5 1013.7,1021.8 1014.6,1020.6 1015.5,1022.4 1016.4,1024.9 1017.3,1025.1 1018.2,1026.9 1019.1,1028.1 1020,1026 1020.9,1024.4 1021.8,1023.6 1022.7,1023 1023.6,1024 1024.5,1023.9 1025.4,1020.6 1026.3,1019.5 1027.2,1021.2 1028.1,1025.8 1029,1025.4 1029.9,1024.8 1030.8,1024.1 1031.7,1024.4 1032.6,1025.7 1033.5,1026.5 1034.4,1026.9 1035.3,1028.9 1036.2,1029.5 1037.1,1029.1 1038,1028.4 1038.9,1029.4 1039.8,1031.7 1040.7,1030.4 1041.6,1027.9 1042.5,1029.1 1043.4,1031.5 1044.3,1030.4 1045.2,1027.4 1046.1,1028.2 1047,1029.3 1047.9,1025.8 1048.8,1024.7 1049.7,1026.1 1050.6,1027.4 1051.5,1027.9 1052.4,1027.5 1053.3,1027.3 1054.2,1029.9 1055.1,1031.5 1056,1026.9 1056.9,1021.8 1057.8,1017.7 1058.7,1011.5 1059.6,1013.7 1060.5,1016.4 1061.4,1018.5 1062.3,1020.8 1063.2,1019 1064.1,1017.7 1065,1015.2 1065.9,1013.4 1066.8,1011 1067.7,1008.9 1068.6,1009.3 1069.5,1011.6 1070.4,1012.2 1071.3,1011.2 1072.2,1013.1 1073.1,1015.5 1074,1019.4 1074.9,1022.2 1075.8,1022.1 1076.7,1019.5 1077.6,1018.6 1078.5,1017.4 1079.4,1015.2 1080.3,1013.5 1081.2,1014.9 1082.1,1014.7 1083,1015.4 1083.9,1016.3 1084.8,1015.4 1085.7,1014.8 1086.6,1016.4 1087.5,1018.6 1088.4,1021.3 1089.3,1021.8 1090.2,1022.7 1091.1,1022.7 1092,1022 1092.9,1021 1093.8,1022.4 1094.7,1023.5 1095.6,1022.2 1096.5,1021.6 1097.4,1021.5 1098.3,1020.4 1099.2,1023.8 1100.1,1025 1101,1022.7 1101.9,1019.6 1102.8,1017.6 1103.7,1017.8 1104.6,1021.6 1105.5,1021.9 1106.4,1022.3 1107.3,1024.4 1108.2,1024.9 1109.1,1024.2 1110,1024.4 1110.9,1025.4 1111.8,1023.7 1112.7,1022.4 1113.6,1024.3 1114.5,1024.8 1115.4,1023.9 1116.3,1021.6 1117.2,1019.7 1118.1,1018.3 1119,1018.5 1119.9,1021.2 1120.8,1022.3 1121.7,1022.1 1122.6,1023.2 1123.5,1023.1 1124.4,1023.1 1125.3,1022.8 1126.2,1023.6 1127.1,1024.4 1128,1025.3 1128.9,1024.8 1129.8,1025.2 1130.7,1024.5 1131.6,1023.5 1132.5,1025.1 1133.4,1024 1134.3,1023.6 1135.2,1024 1136.1,1023.7 1137,1023 1137.9,1023.2 1138.8,1024.6 1139.7,1024.7 1140.6,1028 1141.5,1028.7 1142.4,1026 1143.3,1024.9 1144.2,1025.2 1145.1,1024.3 1146,1023.9 1146.9,1022.9 1147.8,1023.7 1148.7,1024.8 1149.6,1026.2 1150.5,1026.7 1151.4,1026.8 1152.3,1025.6 1153.2,1026.2 1154.1,1028.5 1155,1030.1 1155.9,1029.8 1156.8,1028.1 1157.7,1025.1 1158.6,1022.9 1159.5,1024.4 1160.4,1027.2 1161.3,1028.8 1162.2,1028.6 1163.1,1026 1164,1025.4 1164.9,1026.7 1165.8,1025.9 1166.7,1026.2 1167.6,1027.4 1168.5,1027.6 1169.4,1028.5 1170.3,1029.3 1171.2,1028.6 1172.1,1027.8 1173,1029.6 1173.9,1029.5 1174.8,1029.5 1175.7,1031 1176.6,1031.7 1177.5,1030.8 1178.4,1029.1 1179.3,1027.1 1180.2,1028.4 1181.1,1028.4 1182,1028.4 1182.9,1030 1183.8,1030 1184.7,1028.3 1185.6,1028 1186.5,1027.2 1187.4,1028 1188.3,1027.6 1189.2,1027.5 1190.1,1027.7 1191,1027.8 1191.9,1027.9 1192.8,1029.4 1193.7,1029 1194.6,1028.6 1195.5,1029.9 1196.4,1030 1197.3,1030.8 1198.2,1029.8 1199.1,1029.4 1200,1029 1200.9,1028.4" fill="none" stroke="#4759AE" stroke-width="5.4" stroke-linejoin="round" stroke-linecap="butt"/>
</g>
<line x1="123.7" y1="877.7" x2="1202.2" y2="877.7" stroke="#000" stroke-opacity="0.6" stroke-width="5"/>
<text x="113.3" y="1044" text-anchor="end" fill="#E22E2C" font-size="26.5">0</text>
<text x="1213.6" y="1044" fill="#4759AE" font-size="26.5">0</text>
<text x="113.3" y="944" text-anchor="end" fill="#E22E2C" font-size="26.5">0.05</text>
<text x="1213.6" y="944" fill="#4759AE" font-size="26.5">50</text>
<text x="113.3" y="844" text-anchor="end" fill="#E22E2C" font-size="26.5">0.1</text>
<text x="1213.6" y="844" fill="#4759AE" font-size="26.5">100</text>
<text x="113.3" y="744.1" text-anchor="end" fill="#E22E2C" font-size="26.5">0.15</text>
<text x="1213.6" y="744.1" fill="#4759AE" font-size="26.5">150</text>
<text x="113.3" y="644.1" text-anchor="end" fill="#E22E2C" font-size="26.5">0.2</text>
<text x="1213.6" y="644.1" fill="#4759AE" font-size="26.5">200</text>
<text x="267.1" y="1071.2" text-anchor="middle" fill="#1d1d1d" font-size="26.5">11:30</text>
<text x="427.6" y="1071.2" text-anchor="middle" fill="#1d1d1d" font-size="26.5">11:35</text>
<text x="588.1" y="1071.2" text-anchor="middle" fill="#1d1d1d" font-size="26.5">11:40</text>
<text x="748.6" y="1071.2" text-anchor="middle" fill="#1d1d1d" font-size="26.5">11:45</text>
<text x="909.2" y="1071.2" text-anchor="middle" fill="#1d1d1d" font-size="26.5">11:50</text>
<text x="1069.7" y="1071.2" text-anchor="middle" fill="#1d1d1d" font-size="26.5">11:55</text>
<text x="1180.4" y="1108.2" text-anchor="end" fill="#1d1d1d" font-size="26.5">Jun 05, 2022</text>
<text x="663.9" y="620.9" text-anchor="middle" fill="#000" font-weight="bold" font-size="53.3">CD 27</text>
</g>
<g id="p2">
<line x1="266.5" y1="1228.5" x2="266.5" y2="1598.7" stroke="#dddddd" stroke-width="4.6"/>
<line x1="427" y1="1228.5" x2="427" y2="1598.7" stroke="#dddddd" stroke-width="4.6"/>
<line x1="587.5" y1="1228.5" x2="587.5" y2="1598.7" stroke="#dddddd" stroke-width="4.6"/>
<line x1="748" y1="1228.5" x2="748" y2="1598.7" stroke="#dddddd" stroke-width="4.6"/>
<line x1="908.6" y1="1228.5" x2="908.6" y2="1598.7" stroke="#dddddd" stroke-width="4.6"/>
<line x1="1069.1" y1="1228.5" x2="1069.1" y2="1598.7" stroke="#dddddd" stroke-width="4.6"/>
<line x1="123.7" y1="1213.6" x2="1203.2" y2="1213.6" stroke="#1d1d1d" stroke-width="5.2"/>
<line x1="123.7" y1="1613.6" x2="1203.2" y2="1613.6" stroke="#1d1d1d" stroke-width="5.2"/>
<line x1="266.5" y1="1213.6" x2="266.5" y2="1226.4" stroke="#1d1d1d" stroke-width="5.2"/>
<line x1="266.5" y1="1613.6" x2="266.5" y2="1600.8" stroke="#1d1d1d" stroke-width="5.2"/>
<line x1="427" y1="1213.6" x2="427" y2="1226.4" stroke="#1d1d1d" stroke-width="5.2"/>
<line x1="427" y1="1613.6" x2="427" y2="1600.8" stroke="#1d1d1d" stroke-width="5.2"/>
<line x1="587.5" y1="1213.6" x2="587.5" y2="1226.4" stroke="#1d1d1d" stroke-width="5.2"/>
<line x1="587.5" y1="1613.6" x2="587.5" y2="1600.8" stroke="#1d1d1d" stroke-width="5.2"/>
<line x1="748" y1="1213.6" x2="748" y2="1226.4" stroke="#1d1d1d" stroke-width="5.2"/>
<line x1="748" y1="1613.6" x2="748" y2="1600.8" stroke="#1d1d1d" stroke-width="5.2"/>
<line x1="908.6" y1="1213.6" x2="908.6" y2="1226.4" stroke="#1d1d1d" stroke-width="5.2"/>
<line x1="908.6" y1="1613.6" x2="908.6" y2="1600.8" stroke="#1d1d1d" stroke-width="5.2"/>
<line x1="1069.1" y1="1213.6" x2="1069.1" y2="1226.4" stroke="#1d1d1d" stroke-width="5.2"/>
<line x1="1069.1" y1="1613.6" x2="1069.1" y2="1600.8" stroke="#1d1d1d" stroke-width="5.2"/>
<line x1="123.7" y1="1211" x2="123.7" y2="1616.2" stroke="#E22E2C" stroke-width="5.2"/>
<line x1="1203.2" y1="1211" x2="1203.2" y2="1616.2" stroke="#4759AE" stroke-width="5.2"/>
<line x1="123.7" y1="1613.6" x2="137.7" y2="1613.6" stroke="#E22E2C" stroke-width="5.2"/>
<line x1="1203.2" y1="1613.6" x2="1189.8" y2="1613.6" stroke="#4759AE" stroke-width="5.2"/>
<line x1="123.7" y1="1513.6" x2="137.7" y2="1513.6" stroke="#E22E2C" stroke-width="5.2"/>
<line x1="1203.2" y1="1513.6" x2="1189.8" y2="1513.6" stroke="#4759AE" stroke-width="5.2"/>
<line x1="123.7" y1="1413.6" x2="137.7" y2="1413.6" stroke="#E22E2C" stroke-width="5.2"/>
<line x1="1203.2" y1="1413.6" x2="1189.8" y2="1413.6" stroke="#4759AE" stroke-width="5.2"/>
<line x1="123.7" y1="1313.6" x2="137.7" y2="1313.6" stroke="#E22E2C" stroke-width="5.2"/>
<line x1="1203.2" y1="1313.6" x2="1189.8" y2="1313.6" stroke="#4759AE" stroke-width="5.2"/>
<line x1="123.7" y1="1213.6" x2="137.7" y2="1213.6" stroke="#E22E2C" stroke-width="5.2"/>
<line x1="1203.2" y1="1213.6" x2="1189.8" y2="1213.6" stroke="#4759AE" stroke-width="5.2"/>
<clipPath id="c2"><rect x="123.7" y="1213.6" width="1079.5" height="400.3"/></clipPath>
<g clip-path="url(#c2)">
<path d="M395.2,1422.7 395.7,1418.6 396.2,1423.5 396.7,1448.8 397.2,1454 397.7,1504.9 398.2,1495.4 398.7,1539 399.2,1547 399.7,1545.2 400.2,1527.8 400.7,1538.3 401.2,1507.6 401.7,1533.9 402.2,1521.6 402.7,1529.7 403.2,1483.7 403.7,1528.5 404.2,1476.5 404.7,1538.9 405.2,1484.1 405.7,1545 406.2,1484.3 406.7,1542.7 407.2,1492.6 407.7,1505.9 408.2,1484.4 408.7,1467.4 409.2,1462.8 409.7,1472.3 410.2,1476.1 410.7,1498.5 411.2,1490.7 411.7,1498.8 412.2,1499 412.7,1494.6 413.2,1498.8 413.7,1492.9 414.2,1489.2 414.7,1490.4 415.2,1481.5 415.7,1501.6 416.2,1484 416.7,1526.3 417.2,1486.3 417.7,1540.9 418.2,1534.7 418.7,1553.7 419.2,1495.5 419.7,1560.9 420.2,1517.5 420.7,1549.4 421.2,1489.6 421.7,1511.1 422.2,1466.8 422.7,1459.8 423.2,1449.9 423.7,1454.1 424.2,1465.4 424.7,1480.3 425.2,1482.5 425.7,1493.8 426.2,1481.1 426.7,1494.3 427.2,1475.7 427.7,1491.9 428.2,1470.1 428.7,1491.8 429.2,1470.2 429.7,1497.4 430.2,1481.7 430.7,1511.3 431.2,1525.3 431.7,1562.7 432.2,1574.6 432.7,1569 433.2,1558.1 433.7,1564.2 434.2,1541.8 434.7,1559.7 435.2,1518.8 435.7,1542.2 436.2,1507.2 436.7,1554.2 437.2,1488.9 437.7,1554.1 438.2,1487.5 438.7,1549.2 439.2,1480.2 439.7,1540.3 440.2,1488.1 440.7,1525.8 441.2,1506.5 441.7,1500.6 442.2,1474.5 442.7,1459.1 443.2,1460.5 443.7,1477.1 444.2,1493.8 444.7,1521.3 445.2,1512.3 445.7,1551.1 446.2,1499.6 446.7,1566 447.2,1497.1 447.7,1556.7 448.2,1486.1 448.7,1536.7 449.2,1478.7 449.7,1514 450.2,1476.6 450.7,1503.2 451.2,1475.8 451.7,1509.9 452.2,1469 452.7,1522.8 453.2,1466.8 453.7,1531.5 454.2,1522.7 454.7,1545.8 455.2,1470.5 455.7,1562.6 456.2,1475.5 456.7,1556 457.2,1522 457.7,1560.1 458.2,1476.4 458.7,1559.1 459.2,1480.1 459.7,1557.3 460.2,1492.9 460.7,1568.4 461.2,1563.1 461.7,1578.9 462.2,1562.3 462.7,1575.2 463.2,1566.3 463.7,1573.3 464.2,1516.1 464.7,1563.2 465.2,1510.8 465.7,1552.9 466.2,1521.3 466.7,1544.4 467.2,1540.9 467.7,1532.6 468.2,1521.8 468.7,1530.7 469.2,1517.8 469.7,1539.3 470.2,1518.2 470.7,1556.5 471.2,1515.5 471.7,1556.9 472.2,1514.9 472.7,1558.9 473.2,1516.3 473.7,1549 474.2,1509.6 474.7,1540.1 475.2,1521.1 475.7,1526.4 476.2,1486.8 476.7,1522.6 477.2,1475.6 477.7,1522.1 478.2,1472.9 478.7,1516.5 479.2,1476.2 479.7,1521.2 480.2,1531.3 480.7,1582.3 481.2,1593.2 481.7,1578.6 482.2,1560.2 482.7,1553.3 483.2,1534.6 483.7,1533.4 484.2,1518.6 484.7,1521 485.2,1508.6 485.7,1514.8 486.2,1501.9 486.7,1517.3 487.2,1490.9 487.7,1521.3 488.2,1511.5 488.7,1526.2 489.2,1493.5 489.7,1516.4 490.2,1492.5 490.7,1494.7 491.2,1490.5 491.7,1490.8 492.2,1489.2 492.7,1492.5 493.2,1506.9 493.7,1535 494.2,1561 494.7,1557 495.2,1551 495.7,1540.4 496.2,1538.5 496.7,1535.9 497.2,1529.6 497.7,1547 498.2,1538.5 498.7,1555 499.2,1494.5 499.7,1551.6 500.2,1485.9 500.7,1543.9 501.2,1526.1 501.7,1547.1 502.2,1521 502.7,1559.9 503.2,1492 503.7,1561.1 504.2,1495.9 504.7,1561.4 505.2,1535.9 505.7,1586.3 506.2,1583.9 506.7,1582.9 507.2,1560.5 507.7,1574.6 508.2,1545.8 508.7,1567.2 509.2,1557.7 509.7,1567.1 510.2,1518.8 510.7,1560.4 511.2,1509.2 511.7,1564.1 512.2,1495.2 512.7,1544.6 513.2,1496.1 513.7,1527.1 514.2,1499.3 514.7,1505.1 515.2,1494.9 515.7,1495 516.2,1485 516.7,1496.4 517.2,1476.5 517.7,1514.6 518.2,1479 518.7,1536.5 519.2,1499 519.7,1519 520.2,1488.7 520.7,1475.9 521.2,1458.3 521.7,1457.9 522.2,1462.9 522.7,1492.8 523.2,1476 523.7,1528.8 524.2,1484.6 524.7,1549.1 525.2,1474.5 525.7,1551.2 526.2,1477.1 526.7,1540.8 527.2,1470.3 527.7,1491 528.2,1474.1 528.7,1510.2 529.2,1527.8 529.7,1571.4 530.2,1574.1 530.7,1565.7 531.2,1550.3 531.7,1557.4 532.2,1539.6 532.7,1565.1 533.2,1525.3 533.7,1568 534.2,1521.6 534.7,1565.7 535.2,1508.8 535.7,1541 536.2,1495.9 536.7,1548.8 537.2,1487.4 537.7,1545 538.2,1489.7 538.7,1555.7 539.2,1494.3 539.7,1554.6 540.2,1500 540.7,1558.9 541.2,1503.8 541.7,1545.4 542.2,1503.4 542.7,1558.9 543.2,1505.8 543.7,1516.5 544.2,1500.1 544.7,1558.4 545.2,1539.4 545.7,1558.7 546.2,1503.2 546.7,1554.2 547.2,1498 547.7,1555.2 548.2,1498.6 548.7,1503.8 549.2,1495.1 549.7,1547.5 550.2,1519.8 550.7,1570.7 551.2,1589.6 551.7,1584.4 552.2,1569.4 552.7,1573 553.2,1547 553.7,1565.8 554.2,1531.2 554.7,1556.8 555.2,1517.6 555.7,1552.2 556.2,1513.3 556.7,1551.5 557.2,1507.2 557.7,1551.7 558.2,1507.2 558.7,1554.8 559.2,1498.9 559.7,1547.3 560.2,1496.4 560.7,1543.1 561.2,1497 561.7,1527.2 562.2,1499.2 562.7,1509.2 563.2,1495.6 563.7,1495 564.2,1492.8 564.7,1492 565.2,1492.1 565.7,1493.6 566.2,1494.8 566.7,1504.2 567.2,1493.4 567.7,1525.1 568.2,1485.9 568.7,1549.7 569.2,1482.3 569.7,1557.3 570.2,1542.1 570.7,1578.7 571.2,1573.3 571.7,1574.8 572.2,1556.6 572.7,1569 573.2,1539.6 573.7,1540.6 574.2,1529.5 574.7,1556.1 575.2,1521.8 575.7,1556.6 576.2,1519.8 576.7,1549.1 577.2,1536.5 577.7,1554.9 578.2,1550.9 578.7,1556.6 579.2,1537.9 579.7,1552.4 580.2,1525.8 580.7,1550.4 581.2,1515.5 581.7,1545.2 582.2,1513.3 582.7,1545.2 583.2,1508.4 583.7,1518.7 584.2,1529.8 584.7,1557 585.2,1551.8 585.7,1557.3 586.2,1536.7 586.7,1565.2 587.2,1522.6 587.7,1552.5 588.2,1512.9 588.7,1549 589.2,1503.9 589.7,1540.2 590.2,1499.1 590.7,1525.9 591.2,1494.3 591.7,1507.9 592.2,1491 592.7,1497.5 593.2,1488 593.7,1492.2 594.2,1485.3 594.7,1490.6 595.2,1487.2 595.7,1489.6 596.2,1481.9 596.7,1489.5 597.2,1481.5 597.7,1489.8 598.2,1481.3 598.7,1489.9 599.2,1484.7 599.7,1514.3 600.2,1531.1 600.7,1569.3 601.2,1567 601.7,1555.2 602.2,1540 602.7,1548.4 603.2,1519.3 603.7,1542.7 604.2,1506.3 604.7,1534.2 605.2,1498.8 605.7,1540.6 606.2,1494.7 606.7,1526.1 607.2,1485 607.7,1498.9 608.2,1483.3 608.7,1491.4 609.2,1480.1 609.7,1494.1 610.2,1489.3 610.7,1525.8 611.2,1541.8 611.7,1548.9 612.2,1536.2 612.7,1551 613.2,1522 613.7,1556.4 614.2,1507.3 614.7,1555.2 615.2,1497.4 615.7,1546.5 616.2,1506 616.7,1539.7 617.2,1491.4 617.7,1521.9 618.2,1483.2 618.7,1504.2 619.2,1481.5 619.7,1492.2 620.2,1481.9 620.7,1508.9 621.2,1526.8 621.7,1586.7 622.2,1612.6 622.7,1594.6 623.2,1573.9 623.7,1558.8 624.2,1536.1 624.7,1521.9 625.2,1497.6 625.7,1483.4 626.2,1468.4 626.7,1461.6 627.2,1468.4 627.7,1484 628.2,1496.1 628.7,1508.6 629.2,1504.8 629.7,1510.6 630.2,1497.4 630.7,1506.5 631.2,1490.8 631.7,1500.3 632.2,1484.8 632.7,1497.6 633.2,1483 633.7,1495.2 634.2,1481.1 634.7,1494.8 635.2,1480.1 635.7,1492.7 636.2,1487.7 636.7,1490.5 637.2,1478.2 637.7,1489.3 638.2,1476.8 638.7,1488.1 639.2,1477.1 639.7,1486 640.2,1476.9 640.7,1485.7 641.2,1477.5 641.7,1486 642.2,1479 642.7,1489.8 643.2,1499.1 643.7,1520.7 644.2,1510.3 644.7,1476.4 645.2,1460 645.7,1465.8 646.2,1484.1 646.7,1505.6 647.2,1517.4 647.7,1529.5 648.2,1537.6 648.7,1552.4 649.2,1548.9 649.7,1542.7 650.2,1533.1 650.7,1530.2 651.2,1518.2 651.7,1520.1 652.2,1508.8 652.7,1513.4 653.2,1499.5 653.7,1510.1 654.2,1493.7 654.7,1494.3 655.2,1491.4 655.7,1502.9 656.2,1488.4 656.7,1498.2 657.2,1486 657.7,1494.3 658.2,1483.5 658.7,1491.8 659.2,1483 659.7,1490.6 660.2,1482.5 660.7,1488.4 661.2,1482 661.7,1492.1 662.2,1481.8 662.7,1493.3 663.2,1480.7 663.7,1489.8 664.2,1481 664.7,1494.1 665.2,1480.2 665.7,1492.7 666.2,1477.8 666.7,1489.5 667.2,1478.2 667.7,1488.1 668.2,1477.1 668.7,1486.5 669.2,1475.8 669.7,1482.5 670.2,1476.8 670.7,1486.7 671.2,1476.4 671.7,1488 672.2,1477.6 672.7,1490.7 673.2,1491.4 673.7,1537.9 674.2,1582.5 674.7,1612.6 675.2,1597.5 675.7,1594.2 676.2,1572 676.7,1581.9 677.2,1561.3 677.7,1562.5 678.2,1557.4 678.7,1562.2 679.2,1545.6 679.7,1558.6 680.2,1533.6 680.7,1553.1 681.2,1523.1 681.7,1547 682.2,1512.7 682.7,1530.6 683.2,1504 683.7,1513.3 684.2,1499 684.7,1502 685.2,1494.1 685.7,1498.9 686.2,1490.6 686.7,1497.4 687.2,1491.8 687.7,1521.5 688.2,1542.5 688.7,1576.8 689.2,1569.5 689.7,1565.2 690.2,1544.6 690.7,1544.9 691.2,1531.8 691.7,1550.3 692.2,1557.5 692.7,1557.6 693.2,1546.4 693.7,1555 694.2,1529.4 694.7,1545 695.2,1511.9 695.7,1523.2 696.2,1487.1 696.7,1480.6 697.2,1461.4 697.7,1456.8 698.2,1458.6 698.7,1467.3 699.2,1481.8 699.7,1523.3 700.2,1556.3 700.7,1563.6 701.2,1549.6 701.7,1558.1 702.2,1528.5 702.7,1550.9 703.2,1511 703.7,1535.2 704.2,1497.2 704.7,1512.4 705.2,1497.8 705.7,1534.8 706.2,1549.4 706.7,1568.2 707.2,1555.5 707.7,1559.7 708.2,1535.1 708.7,1549.8 709.2,1518.9 709.7,1540.2 710.2,1507.8 710.7,1538.3 711.2,1502.1 711.7,1535 712.2,1492.1 712.7,1519.5 713.2,1485.1 713.7,1500.8 714.2,1479.7 714.7,1492.3 715.2,1477 715.7,1490.6 716.2,1475.3 716.7,1490.8 717.2,1474.7 717.7,1494.2 718.2,1476.1 718.7,1494.8 719.2,1490.6 719.7,1510.8 720.2,1534.1 720.7,1566.9 721.2,1562.5 721.7,1557.9 722.2,1541.3 722.7,1558 723.2,1525.5 723.7,1557.1 724.2,1516.1 724.7,1551.8 725.2,1508.2 725.7,1544.1 726.2,1500.2 726.7,1509.2 727.2,1493.4 727.7,1519.4 728.2,1489.8 728.7,1506 729.2,1486.9 729.7,1495.4 730.2,1485 730.7,1495 731.2,1483.9 731.7,1502.2 732.2,1517.9 732.7,1572.5 733.2,1611.2 733.7,1599.5 734.2,1581.6 734.7,1572.5 735.2,1556.7 735.7,1558.2 736.2,1560.9 736.7,1559 737.2,1548.5 737.7,1556.3 738.2,1534.9 738.7,1554 739.2,1520.6 739.7,1543.8 740.2,1509.2 740.7,1536.3 741.2,1499.2 741.7,1538.3 742.2,1495.8 742.7,1533.8 743.2,1493.3 743.7,1515.6 744.2,1489.1 744.7,1495.1 745.2,1486.1 745.7,1493.7 746.2,1483.7 746.7,1492.5 747.2,1482.6 747.7,1489.8 748.2,1483.2 748.7,1496.4 749.2,1514.4 749.7,1551.6 750.2,1565.7 750.7,1544.5 751.2,1518.8 751.7,1495.8 752.2,1469.7 752.7,1456.5 753.2,1454.5 753.7,1468.6 754.2,1477.1 754.7,1513.9 755.2,1524.1 755.7,1541.1 756.2,1497.9 756.7,1546 757.2,1513 757.7,1538.8 758.2,1493.8 758.7,1531.6 759.2,1494.2 759.7,1533.1 760.2,1485.2 760.7,1544.7 761.2,1484.5 761.7,1555.8 762.2,1483.3 762.7,1546.5 763.2,1485 763.7,1523.7 764.2,1478.8 764.7,1499.7 765.2,1475.1 765.7,1489.3 766.2,1475 766.7,1488.4 767.2,1474.3 767.7,1485.9 768.2,1474 768.7,1488.4 769.2,1495.7 769.7,1530.4 770.2,1582.5 770.7,1612.6 771.2,1594.2 771.7,1580.5 772.2,1564.2 772.7,1556.2 773.2,1542.1 773.7,1550.7 774.2,1527.5 774.7,1555.1 775.2,1517.7 775.7,1554.4 776.2,1507.7 776.7,1545.6 777.2,1495.2 777.7,1536.9 778.2,1490 778.7,1537.5 779.2,1487.4 779.7,1523.3 780.2,1482.9 780.7,1505.1 781.2,1479.4 781.7,1493.2 782.2,1476.6 782.7,1493.1 783.2,1475.7 783.7,1492.6 784.2,1476.2 784.7,1491 785.2,1476.5 785.7,1489.9 786.2,1477.6 786.7,1490 787.2,1478.1 787.7,1489.7 788.2,1479.1 788.7,1489 789.2,1480.7 789.7,1490.1 790.2,1479.6 790.7,1490.1 791.2,1487.3 791.7,1518.1 792.2,1560.4 792.7,1607.7 793.2,1601.7 793.7,1587.5 794.2,1570.9 794.7,1563.5 795.2,1548 795.7,1545.1 796.2,1531.2 796.7,1536.3 797.2,1529 797.7,1551.6 798.2,1519.8 798.7,1551.1 799.2,1514.7 799.7,1543.4 800.2,1503.7 800.7,1534.4 801.2,1496.1 801.7,1526.5 802.2,1490.8 802.7,1509.9 803.2,1486.7 803.7,1494.4 804.2,1481.2 804.7,1493.5 805.2,1479.2 805.7,1492.9 806.2,1478.4 806.7,1489 807.2,1478 807.7,1502.3 808.2,1502.2 808.7,1485.9 809.2,1450.3 809.7,1433.7 810.2,1439.5 810.7,1464.1 811.2,1481.1 811.7,1515.2 812.2,1503.3 812.7,1535.9 813.2,1506.1 813.7,1520.6 814.2,1496.5 814.7,1509.3 815.2,1492.4 815.7,1494.7 816.2,1488.9 816.7,1496.9 817.2,1485.5 817.7,1496 818.2,1482.7 818.7,1487.7 819.2,1482.1 819.7,1491.9 820.2,1481 820.7,1491.9 821.2,1483.2 821.7,1505 822.2,1533.3 822.7,1590.1 823.2,1599.8 823.7,1589.7 824.2,1566 824.7,1572.7 825.2,1568.2 825.7,1566.7 826.2,1553.1 826.7,1560.9 827.2,1535.1 827.7,1556 828.2,1517.5 828.7,1538.1 829.2,1506 829.7,1517.3 830.2,1497 830.7,1506.5 831.2,1499.2 831.7,1532.1 832.2,1562.2 832.7,1609 833.2,1580.8 833.7,1576 834.2,1525.6 834.7,1546.3 835.2,1500.8 835.7,1526.7 836.2,1517.7 836.7,1552.6 837.2,1550.7 837.7,1551.9 838.2,1510.8 838.7,1552.7 839.2,1494.7 839.7,1552.4 840.2,1482.7 840.7,1546 841.2,1478.3 841.7,1535.4 842.2,1480.1 842.7,1529.3 843.2,1476 843.7,1508.9 844.2,1480.7 844.7,1488.3 845.2,1471.7 845.7,1489 846.2,1481.6 846.7,1524.7 847.2,1538.2 847.7,1565.9 848.2,1544.3 848.7,1544 849.2,1502 849.7,1530.8 850.2,1483 850.7,1522.2 851.2,1481.7 851.7,1519.9 852.2,1478 852.7,1528.8 853.2,1474.7 853.7,1534.6 854.2,1479.6 854.7,1546.9 855.2,1475.4 855.7,1543.9 856.2,1480.8 856.7,1537.8 857.2,1478 857.7,1517.1 858.2,1493.1 858.7,1495.8 859.2,1476.2 859.7,1481.5 860.2,1477.1 860.7,1491.4 861.2,1485.2 861.7,1491.1 862.2,1476.3 862.7,1494 863.2,1486.8 863.7,1538.1 864.2,1564.3 864.7,1589.6 865.2,1550 865.7,1563.2 866.2,1505.6 866.7,1551.2 867.2,1494.5 867.7,1552 868.2,1489.8 868.7,1547 869.2,1480 869.7,1542.6 870.2,1485.1 870.7,1529.9 871.2,1478.4 871.7,1532.6 872.2,1482.9 872.7,1545.5 873.2,1489 873.7,1552.8 874.2,1485.1 874.7,1546.6 875.2,1479.6 875.7,1541.1 876.2,1476.4 876.7,1497.7 877.2,1481.2 877.7,1546.6 878.2,1483.2 878.7,1546.3 879.2,1477.4 879.7,1505.4 880.2,1476.2 880.7,1544.8 881.2,1481.7 881.7,1516.7 882.2,1479.9 882.7,1497.2 883.2,1478 883.7,1486.2 884.2,1479.4 884.7,1487.9 885.2,1484.6 885.7,1488.5 886.2,1479.7 886.7,1490.5 887.2,1487.8 887.7,1525.2 888.2,1537.2 888.7,1553.6 889.2,1525.7 889.7,1542.9 890.2,1497.2 890.7,1537.1 891.2,1486.9 891.7,1532.2 892.2,1481.3 892.7,1527 893.2,1478 893.7,1525.2 894.2,1477.1 894.7,1526.6 895.2,1499.7 895.7,1529.3 896.2,1478.7 896.7,1532.3 897.2,1474.8 897.7,1533.7 898.2,1483.1 898.7,1527.1 899.2,1496.6 899.7,1505.8 900.2,1477.7 900.7,1483.8 901.2,1478 901.7,1473.4 902.2,1465.3 902.7,1463.3 903.2,1462.8 903.7,1466.3 904.2,1467.8 904.7,1491.5 905.2,1513.8 905.7,1559.8 906.2,1554.5 906.7,1554.4 907.2,1508.5 907.7,1542.3 908.2,1491.4 908.7,1544.7 909.2,1481.9 909.7,1541.2 910.2,1532.6 910.7,1542 911.2,1482.9 911.7,1538 912.2,1479.7 912.7,1497.7 913.2,1473.4 913.7,1534.5 914.2,1472.6 914.7,1530.8 915.2,1476.9 915.7,1506 916.2,1474.5 916.7,1515 917.2,1471.2 917.7,1500.9 918.2,1472.7 918.7,1491.8 919.2,1474 919.7,1492.9 920.2,1475.2 920.7,1492 921.2,1477.2 921.7,1505.1 922.2,1507.3 922.7,1546.4 923.2,1570.1 923.7,1559.5 924.2,1520.7 924.7,1551.4 925.2,1503.3 925.7,1543.6 926.2,1496.6 926.7,1539.7 927.2,1486.4 927.7,1526.7 928.2,1483.5 928.7,1523.8 929.2,1484.5 929.7,1523.2 930.2,1482.6 930.7,1507.8 931.2,1479.5 931.7,1491.2 932.2,1477.3 932.7,1489.1 933.2,1477 933.7,1484.3 934.2,1487.3 934.7,1539.9 935.2,1572 935.7,1611.7 936.2,1574 936.7,1567.8 937.2,1521.1 937.7,1548.7 938.2,1534.6 938.7,1545.2 939.2,1526 939.7,1540.1 940.2,1500.8 940.7,1538.7 941.2,1490.7 941.7,1546.2 942.2,1488.9 942.7,1546.3 943.2,1492.3 943.7,1546.2 944.2,1487.4 944.7,1534.9 945.2,1486.6 945.7,1532.4 946.2,1490.6 946.7,1531.6 947.2,1485.3 947.7,1525.2 948.2,1484.6 948.7,1521.5 949.2,1482.3 949.7,1524.3 950.2,1497 950.7,1534.8 951.2,1480.5 951.7,1493.4 952.2,1477.1 952.7,1536.5 953.2,1476.4 953.7,1514 954.2,1479.3 954.7,1498.2 955.2,1477.5 955.7,1482.3 956.2,1478.1 956.7,1489.9 957.2,1477.7 957.7,1488.1 958.2,1477.1 958.7,1492 959.2,1485 959.7,1530.5 960.2,1547.4 960.7,1568.2 961.2,1535.5 961.7,1548.8 962.2,1505.2 962.7,1546.8 963.2,1490.5 963.7,1541.8 964.2,1486.2 964.7,1534.8 965.2,1483.2 965.7,1515.8 966.2,1476.2 966.7,1487.7 967.2,1466.9 967.7,1467.4 968.2,1459.8 968.7,1456.6 969.2,1466.4 969.7,1490.2 970.2,1499.4 970.7,1521.2 971.2,1498.4 971.7,1534.4 972.2,1495.5 972.7,1532.3 973.2,1490.8 973.7,1529.2 974.2,1492.2 974.7,1529.4 975.2,1508 975.7,1534.3 976.2,1488.4 976.7,1528.4 977.2,1492.3 977.7,1512.3 978.2,1489 978.7,1493.4 979.2,1488 979.7,1490.1 980.2,1484.3 980.7,1495.2 981.2,1487.2 981.7,1521.4 982.2,1538.6 982.7,1575.1 983.2,1555.1 983.7,1563.7 984.2,1511.2 984.7,1558.4 985.2,1496 985.7,1539.9 986.2,1479.1 986.7,1512.5 987.2,1481.2 987.7,1515.5 988.2,1534 988.7,1575.2 989.2,1565.8 989.7,1557 990.2,1517.4 990.7,1537.9 991.2,1497.6 991.7,1531.6 992.2,1489.2 992.7,1524.5 993.2,1480.8 993.7,1496.8 994.2,1469.6 994.7,1468.7 995.2,1466.8 995.7,1477.5 996.2,1470.9 996.7,1508.2 997.2,1475.3 997.7,1529.1 998.2,1511.9 998.7,1521.1 999.2,1477.9 999.7,1510.1 1000.2,1477.1 1000.7,1492.7 1001.2,1488.1 1001.7,1494.1 1002.2,1477.3 1002.7,1494.7 1003.2,1478.8 1003.7,1493.4 1004.2,1482.7 1004.7,1513.3 1005.2,1534.4 1005.7,1566.6 1006.2,1556.8 1006.7,1555 1007.2,1541.4 1007.7,1546.7 1008.2,1492 1008.7,1528.8 1009.2,1484.8 1009.7,1507.5 1010.2,1478.9 1010.7,1492.7 1011.2,1478.6 1011.7,1492.3 1012.2,1480.5 1012.7,1489.1 1013.2,1477.7 1013.7,1482.4 1014.2,1474.3 1014.7,1473.3 1015.2,1472.7 1015.7,1475.8 1016.2,1478.5 1016.7,1485.1 1017.2,1478.8 1017.7,1491.3 1018.2,1480.4 1018.7,1491 1019.2,1482.7 1019.7,1490.5 1020.2,1484.9" fill="none" stroke="#E22E2C" stroke-width="5.4" stroke-linejoin="round" stroke-linecap="butt"/>
<path d="M375.3,1613.2 392.2,1613.2 394,1560.4 395.8,1515.8 398.4,1506 399.5,1512.9 400.6,1517.1 401.8,1519.7 402.9,1521.2 404,1530.9 405.1,1536.8 406.2,1540.4 407.3,1542.6 408.7,1536.4 410.9,1491 412,1510.4 413.1,1522.1 414.2,1529.3 415.3,1533.6 416.9,1546.5 418.5,1554.4 420,1559.1 421.6,1562 424.2,1478.6 425.1,1507.7 426,1525.4 426.9,1536.1 427.8,1542.6 429.6,1489.2 432.2,1443 433.3,1464 434.4,1476.8 435.6,1484.5 436.7,1489.2 437.8,1517.5 438.9,1534.7 440,1545.1 441.1,1551.4 443.8,1459 444.9,1480.8 446,1494.1 447.1,1502.1 448.2,1507 450,1530.3 451.8,1547 453.5,1558.9 455.3,1567.5 457.1,1573.6 458.9,1578 460.2,1564.2 462.4,1463.4 464.2,1491.3 466,1508.3 467.8,1518.6 469.6,1524.8 471.4,1543.4 473.1,1556.8 474.9,1566.3 476.7,1573.2 478.4,1578.1 480.2,1581.6 481.6,1449.2 482.6,1483.6 483.6,1504.5 484.6,1517.1 485.6,1524.8 486.9,1546.6 488.2,1559.9 489.6,1567.9 490.9,1572.8 493.6,1482 494.7,1509.6 495.8,1526.3 496.9,1536.4 498,1542.6 499.8,1562.8 501.6,1575.1 503.3,1582.5 505.1,1587 506.5,1438.6 507.9,1477.8 509.4,1501.6 510.8,1516 512.2,1524.8 514.1,1548.7 516.1,1565.8 518,1578 519.9,1586.8 521.9,1593.1 523.8,1597.6 526.4,1492.8 529.1,1510.6 530.5,1504.6 532.7,1460.8 534.2,1489.9 535.8,1507.6 537.4,1518.3 538.9,1524.8 540.5,1549.5 542.2,1567.2 543.8,1579.9 545.4,1589 547.1,1595.5 548.7,1600.2 551,1476.8 552.4,1506.7 553.9,1524.9 555.3,1535.9 556.7,1542.6 558.2,1563.6 559.7,1578.6 561.2,1589.4 562.6,1597.1 564.1,1602.6 565.6,1606.6 566.9,1596.6 569.1,1523 570.4,1552.1 571.8,1569.8 573.1,1580.5 574.4,1587 575.8,1581 578,1537.2 578.9,1555.8 579.8,1567 580.7,1573.9 581.6,1578 582.9,1571.6 585.1,1524.8 586.6,1545 588.2,1557.3 589.8,1564.7 591.3,1569.2 593.1,1586.9 594.8,1597.7 596.6,1604.2 598.4,1608.2 601.1,1520.2 602.6,1553 604.1,1572.8 605.6,1584.9 607.1,1592.2 609.4,1586 611.6,1540.8 613.2,1564.1 614.8,1580.8 616.5,1592.7 618.1,1601.3 619.7,1607.4 621.3,1611.8 623,1602.4 625.2,1533.6 626.7,1471.4 628,1503.8 629.4,1523.5 630.7,1535.4 632,1542.6 634.1,1565.3 636.1,1581.5 638.2,1593.2 640.3,1601.5 642.3,1607.5 644.4,1611.8 647.5,1543.6 648.9,1483.8 650,1510.6 651.1,1526.8 652.2,1536.6 653.3,1542.6 655.4,1565.3 657.5,1581.5 659.5,1593.2 661.6,1601.5 663.7,1607.5 665.8,1611.8 674.7,1611.8 676,1605 678.2,1555 680,1577.7 681.8,1591.4 683.5,1599.7 685.3,1604.8 686.7,1600.7 688.9,1571 690.2,1568.6 692.4,1551.4 693.5,1567.6 694.6,1577.4 695.8,1583.4 696.9,1587 698.2,1584.6 700.4,1567.4 706.7,1560.2 708.2,1577.1 709.7,1589.2 711.2,1597.9 712.6,1604.1 714.1,1608.6 715.6,1611.8 719.6,1605.8 721.8,1562 723.4,1578.3 725.1,1590 726.7,1598.4 728.3,1604.4 730,1608.7 731.6,1611.8 734.7,1604.8 736.9,1553.2 738.7,1572.4 740.5,1586.2 742.2,1596 744,1603.1 745.8,1608.2 747.6,1611.8 750.2,1507 752.9,1491 754.2,1514.5 755.5,1528.7 756.9,1537.4 758.2,1542.6 760.3,1565.3 762.4,1581.5 764.5,1593.2 766.5,1601.5 768.6,1607.5 770.7,1611.8 773.3,1540.8 775.2,1564.1 777.2,1580.8 779.1,1592.7 781,1601.3 783,1607.4 784.9,1611.8 794.7,1611.8 797.3,1523 798.9,1539.9 800.5,1550.2 802,1556.4 803.6,1560.2 806.2,1595.8 808.9,1504.2 810.5,1529.7 812,1545.1 813.5,1554.5 815.1,1560.2 816.9,1576.4 818.7,1586.2 820.4,1592.2 822.2,1595.8 823.6,1591.5 825.8,1560.2 827.6,1581.3 829.3,1594.1 831.1,1601.9 832.9,1606.6 835,1599.7 837.2,1549.2 839.2,1575.3 841.2,1591.2 843.1,1600.8 845.1,1606.6 847.8,1558.4 849.9,1575.6 851.9,1588 854,1596.9 856.1,1603.2 858.1,1607.7 860.2,1611 863.4,1604.3 865.6,1555 868.5,1573.6 871.5,1587 874.5,1596.5 877.4,1603.4 880.3,1608.3 883.3,1611.8 886.5,1603.4 888.7,1541.6 891.4,1564.6 894,1581.1 896.7,1592.9 899.4,1601.4 902,1607.5 904.7,1611.8 907.3,1545.2 909.7,1565.3 912.1,1579.8 914.5,1590.1 916.8,1597.5 919.2,1602.8 921.6,1606.6 922.9,1601.4 925.1,1563 927,1579 929,1590.5 930.9,1598.7 932.8,1604.6 934.8,1608.8 936.7,1611.8 939.3,1537.2 940.6,1547.7 942,1555.2 943.3,1560.6 944.6,1564.5 946,1567.2 947.3,1569.2 948.9,1582.1 950.6,1591.3 952.2,1597.9 953.8,1602.6 955.5,1606 957.1,1608.4 958.5,1602.6 960.7,1560.2 962.2,1575.6 963.8,1584.9 965.4,1590.6 966.9,1594 968.2,1591.9 970.4,1576.2 971.8,1585.1 973.1,1590.5 974.4,1593.8 975.8,1595.8 977.1,1602.3 978.5,1606.2 979.8,1608.6 981.1,1610 982.9,1569.2 990,1574.4 991.9,1586.4 993.9,1595 995.8,1601.2 997.7,1605.6 999.7,1608.7 1001.6,1611 1003.8,1605.3 1006,1563.8 1008.1,1579.5 1010.1,1590.8 1012.2,1598.9 1014.3,1604.7 1016.3,1608.8 1018.4,1611.8 1020.7,1607.5 1022.9,1576.2 1024.5,1586.7 1026.2,1594.2 1027.8,1599.6 1029.4,1603.5 1031.1,1606.2 1032.7,1608.2 1039.8,1611 1045.1,1604.8 1050.4,1611 1051,1611 1052.1,1610 1053.2,1611.2 1054.3,1610.8 1055.4,1611.6 1056.5,1611.6 1057.6,1611 1058.7,1608.8 1059.8,1608.1 1060.9,1606.2 1062,1607.4 1063.1,1608.1 1064.2,1609 1065.3,1609.1 1066.4,1610.6 1067.5,1611.2 1068.6,1609.1 1069.7,1608.8 1070.8,1606.6 1071.9,1607.2 1073,1609.5 1074.1,1610.4 1075.2,1608.7 1076.3,1610.3 1077.4,1608.9 1078.5,1606.5 1079.6,1607.8 1080.7,1609.8 1081.8,1609.7 1082.9,1608.6 1084,1609.1 1085.1,1611.4 1086.2,1609.8 1087.3,1610.4 1088.4,1610.6 1089.5,1609.2 1090.6,1609.7 1091.7,1610.5 1092.8,1609 1093.9,1609.7 1095,1610.6 1096.1,1609.4 1097.2,1609.9 1098.3,1609.9 1099.4,1610.3 1100.5,1609.7 1101.6,1611.1 1102.7,1611.3 1103.8,1610.2 1104.9,1609.4 1106,1609.2 1107.1,1609.6 1108.2,1608.2 1109.3,1607.3 1110.4,1607.5 1111.5,1608.6 1112.6,1609.6 1113.7,1610.5 1114.8,1611.1 1115.9,1610.2 1117,1610.9 1118.1,1611 1119.2,1610.2 1120.3,1609.4 1121.4,1608.2 1122.5,1609.2 1123.6,1610.3 1124.7,1611.3 1125.8,1610.5 1126.9,1608.7 1128,1608 1129.1,1610.4 1130.2,1610 1131.3,1609.6 1132.4,1609.7 1133.5,1609.8 1134.6,1610.3 1135.7,1609.2 1136.8,1608.2 1137.9,1609.9 1139,1611.9 1140.1,1609.6 1141.2,1609 1142.3,1609.2 1143.4,1610.2 1144.5,1610.1 1145.6,1610.8 1146.7,1610.2 1147.8,1610.3 1148.9,1611 1150,1609 1151.1,1609.4 1152.2,1610.5 1153.3,1611.7 1154.4,1611.8 1155.5,1610.6 1156.6,1610.4 1157.7,1610.8 1158.8,1610.4 1159.9,1611.2 1161,1609.7 1162.1,1608.6 1163.2,1609.9 1164.3,1610.6 1165.4,1610.6 1166.5,1611.3 1167.6,1610.4 1168.7,1610.3 1169.8,1609.9 1170.9,1609.9 1172,1611.7 1173.1,1610 1174.2,1610.7 1175.3,1610.2 1176.4,1609.9 1177.5,1609.8 1178.6,1607.3 1179.7,1607.5 1180.8,1609.3 1181.9,1609.9 1183,1611.2 1184.1,1611.9 1185.2,1610.7 1186.3,1610.7 1187.4,1609.7 1188.5,1610.7 1189.6,1610.1 1190.7,1611.1 1191.8,1610.1 1192.9,1610.8 1194,1609.1 1195.1,1609 1196.2,1609.7 1197.3,1610.5 1198.4,1609.4 1199.5,1608.3 1200.6,1609 1201.7,1608.4" fill="none" stroke="#4759AE" stroke-width="5.4" stroke-linejoin="round" stroke-linecap="butt"/>
</g>
<line x1="123.7" y1="1492" x2="1202.2" y2="1492" stroke="#000" stroke-opacity="0.6" stroke-width="5"/>
<text x="113.3" y="1623.3" text-anchor="end" fill="#E22E2C" font-size="26.5">0</text>
<text x="1213.6" y="1623.3" fill="#4759AE" font-size="26.5">0</text>
<text x="113.3" y="1523.3" text-anchor="end" fill="#E22E2C" font-size="26.5">0.05</text>
<text x="1213.6" y="1523.3" fill="#4759AE" font-size="26.5">50</text>
<text x="113.3" y="1423.3" text-anchor="end" fill="#E22E2C" font-size="26.5">0.1</text>
<text x="1213.6" y="1423.3" fill="#4759AE" font-size="26.5">100</text>
<text x="113.3" y="1323.3" text-anchor="end" fill="#E22E2C" font-size="26.5">0.15</text>
<text x="1213.6" y="1323.3" fill="#4759AE" font-size="26.5">150</text>
<text x="113.3" y="1223.3" text-anchor="end" fill="#E22E2C" font-size="26.5">0.2</text>
<text x="1213.6" y="1223.3" fill="#4759AE" font-size="26.5">200</text>
<text x="267.1" y="1650.5" text-anchor="middle" fill="#1d1d1d" font-size="26.5">11:30</text>
<text x="427.6" y="1650.5" text-anchor="middle" fill="#1d1d1d" font-size="26.5">11:35</text>
<text x="588.1" y="1650.5" text-anchor="middle" fill="#1d1d1d" font-size="26.5">11:40</text>
<text x="748.6" y="1650.5" text-anchor="middle" fill="#1d1d1d" font-size="26.5">11:45</text>
<text x="909.2" y="1650.5" text-anchor="middle" fill="#1d1d1d" font-size="26.5">11:50</text>
<text x="1069.7" y="1650.5" text-anchor="middle" fill="#1d1d1d" font-size="26.5">11:55</text>
<text x="1180.4" y="1687.5" text-anchor="end" fill="#1d1d1d" font-size="26.5">Jun 05, 2022</text>
<text x="663.9" y="1200.1" text-anchor="middle" fill="#000" font-weight="bold" font-size="53.3">CD 29</text>
</g>
<rect x="344.6" y="83.5" width="531.1" height="156.9" fill="#fff" stroke="#232323" stroke-width="5"/>
<line x1="353.5" y1="111.3" x2="433.3" y2="111.3" stroke="#4759AE" stroke-width="5"/>
<line x1="353.5" y1="161.9" x2="433.3" y2="161.9" stroke="#E22E2C" stroke-width="5"/>
<line x1="353.5" y1="212.5" x2="433.3" y2="212.5" stroke="#000" stroke-opacity="0.6" stroke-width="4.8"/>
<text x="439.3" y="127.3" fill="#000" font-size="40.3">Discharge</text>
<text x="439.3" y="177.2" fill="#000" font-size="40.3">Friction Coefficient</text>
<text x="439.3" y="227.4" fill="#000" font-size="40.3">Base Topography Slope</text>
<path fill="#1d1d1d" fill-rule="evenodd" d="M144.6,458.7 L164.3,400.1 L172.9,400.1 L192.6,458.7 L185,458.7 L179.04,440 L157.95,440 L152.1,458.7 Z M159.5,434.9 L168.4,406.6 L177.4,434.9 Z"/>
<path fill="#1d1d1d" fill-rule="evenodd" d="M150.6,964.6 C155,963.5 160,962.8 165,962.8 C177,962.8 184.8,967.5 184.8,975.7 C184.8,982.5 181,987.3 176,989.7 C183,991.5 187.9,997 187.9,1004.8 C187.9,1015.5 179.5,1021.6 166.1,1021.6 C160,1021.6 154.5,1021.2 150.6,1020.6 Z M157.6,969 C159.5,968.3 162.5,967.7 166.1,967.7 C173.5,967.7 177.8,971 177.8,976.8 C177.8,983 173,987.7 166.1,987.7 L157.6,987.7 Z M157.6,992.6 L167.1,992.6 C175,992.6 180.1,997 180.1,1004.3 C180.1,1012.5 174.5,1016.4 166.1,1016.4 C162.5,1016.4 159.5,1016.1 157.6,1015.4 Z"/>
<path fill="#1d1d1d" d="M198.6,1545.4 C194.5,1543.5 190,1542.3 184.6,1542.3 C166.5,1542.3 154.3,1554 154.3,1572.3 C154.3,1591 166.5,1602.7 184.6,1602.7 C190,1602.7 195,1601.5 198.6,1599.3 L196.8,1594.6 C193.5,1596.2 189.5,1597.2 185.6,1597.2 C171,1597.2 161.8,1587.5 161.8,1572.3 C161.8,1557 171,1547.4 185.6,1547.4 C189.5,1547.4 193.5,1548.5 196.8,1550.3 Z"/>
<text transform="translate(42.2,833.2) rotate(-90)" text-anchor="middle" fill="#E22E2C" font-size="53.3">Friction Coefficient</text>
<text transform="translate(1336.3,832.9) rotate(-90)" text-anchor="middle" fill="#4759AE" font-size="53.3">Discharge (m<tspan dy="-26.3" font-size="42.6">3</tspan><tspan dy="26.3">/s)</tspan></text>
</svg>
</body></html>
